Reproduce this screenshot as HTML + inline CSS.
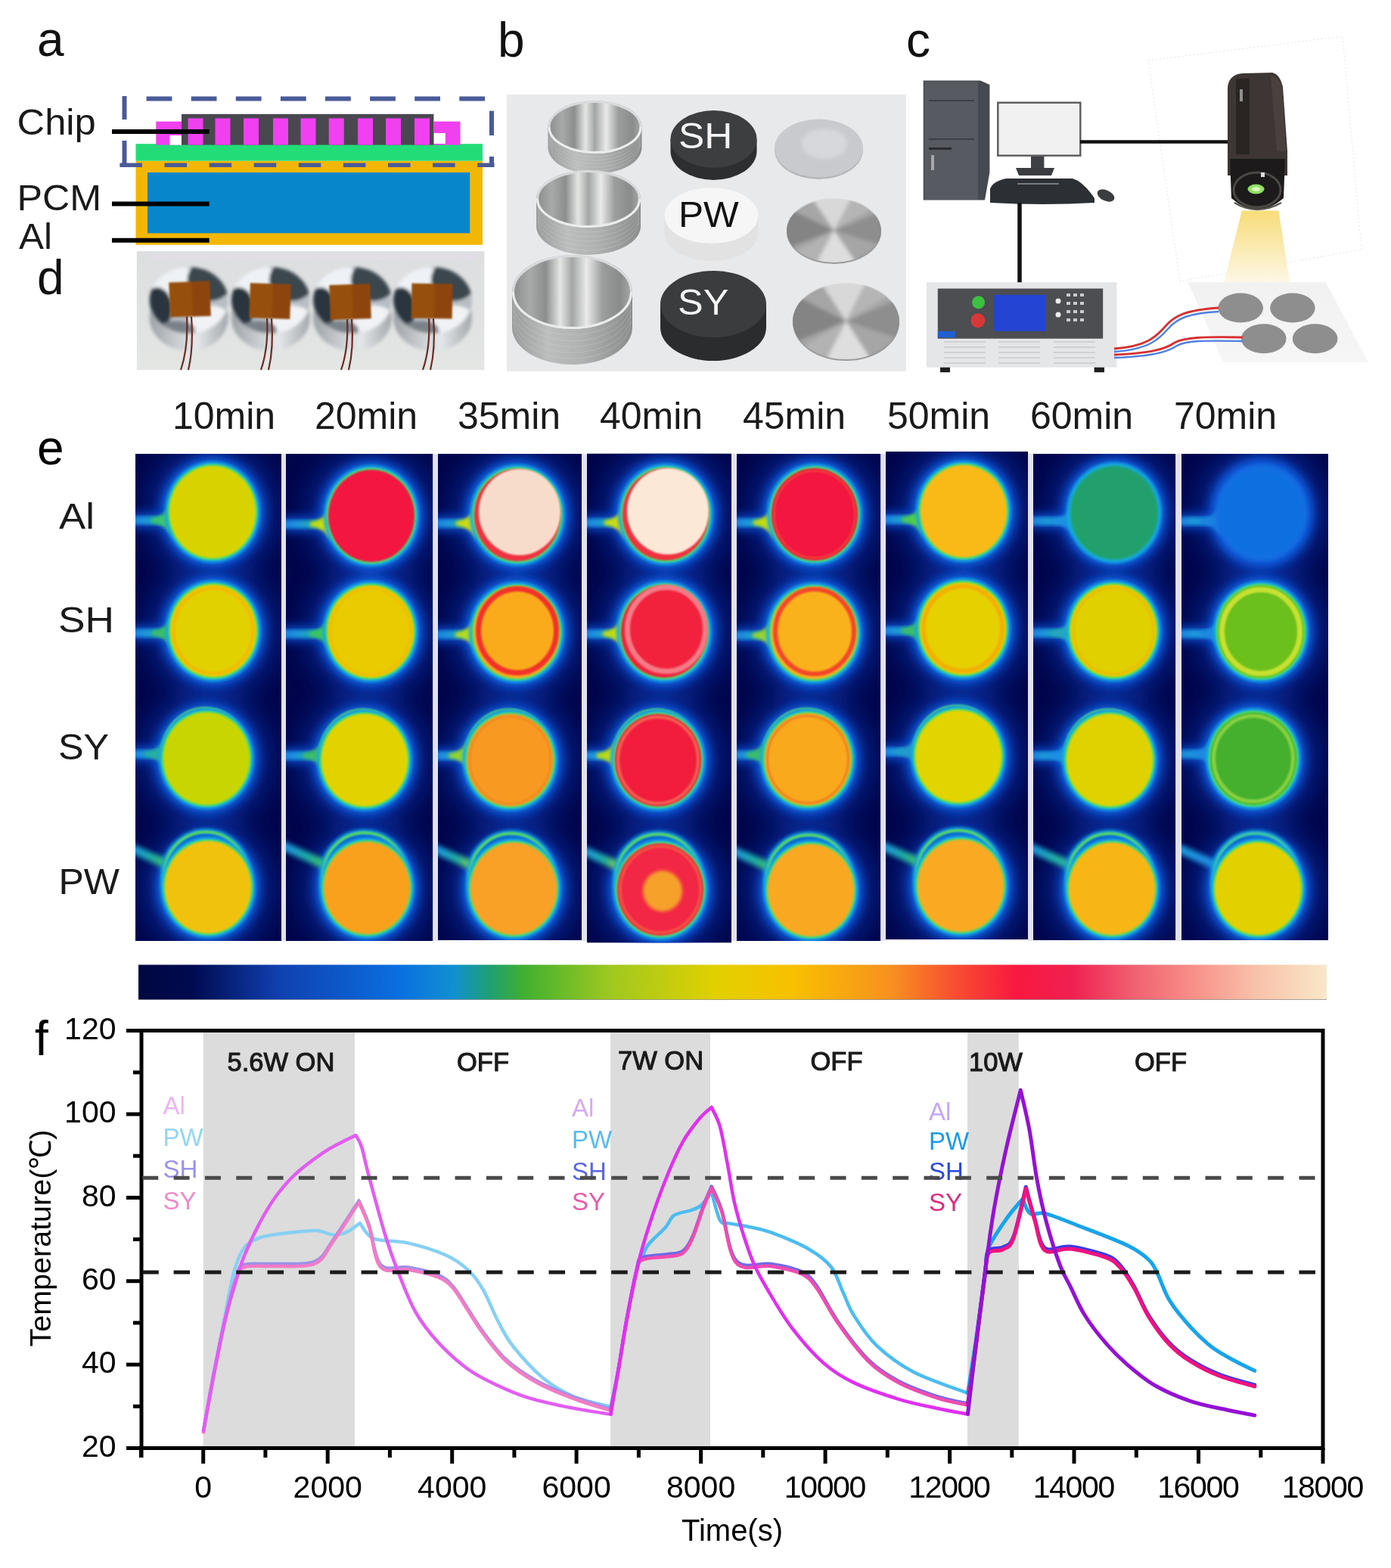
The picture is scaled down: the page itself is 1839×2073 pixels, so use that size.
<!DOCTYPE html><html><head><meta charset="utf-8"><title>Figure</title><style>html,body{margin:0;padding:0;background:#fff;}svg{display:block;}text{font-family:"Liberation Sans",Arial,sans-serif;}</style></head><body>
<svg width="1839" height="2073" viewBox="0 0 1839 2073" font-family="Liberation Sans, Arial, sans-serif">
<defs><filter id="bl12" x="-50%" y="-50%" width="200%" height="200%"><feGaussianBlur stdDeviation="12"/></filter>
<filter id="bl6" x="-50%" y="-50%" width="200%" height="200%"><feGaussianBlur stdDeviation="6"/></filter>
<filter id="bl3" x="-50%" y="-50%" width="200%" height="200%"><feGaussianBlur stdDeviation="3"/></filter>
<filter id="bl18" x="-50%" y="-50%" width="200%" height="200%"><feGaussianBlur stdDeviation="18"/></filter>
<filter id="bl1" x="-20%" y="-20%" width="140%" height="140%"><feGaussianBlur stdDeviation="1.2"/></filter>
<filter id="bl2" x="-20%" y="-20%" width="140%" height="140%"><feGaussianBlur stdDeviation="2.2"/></filter>
<clipPath id="cp0"><rect x="179.0" y="600.0" width="193.0" height="644.0"/></clipPath>
<clipPath id="cp1"><rect x="378.0" y="600.0" width="194.5" height="644.0"/></clipPath>
<clipPath id="cp2"><rect x="579.0" y="600.0" width="190.0" height="643.0"/></clipPath>
<clipPath id="cp3"><rect x="776.0" y="599.5" width="191.0" height="647.0"/></clipPath>
<clipPath id="cp4"><rect x="974.0" y="600.0" width="190.5" height="644.0"/></clipPath>
<clipPath id="cp5"><rect x="1171.0" y="597.0" width="188.0" height="645.0"/></clipPath>
<clipPath id="cp6"><rect x="1366.0" y="600.0" width="188.5" height="643.0"/></clipPath>
<clipPath id="cp7"><rect x="1562.0" y="600.0" width="194.0" height="643.0"/></clipPath>
<linearGradient id="cbar" x1="0" x2="1" y1="0" y2="0"><stop offset="0" stop-color="#000840"/><stop offset="0.045" stop-color="#000a50"/><stop offset="0.118" stop-color="#1040b0"/><stop offset="0.221" stop-color="#0a70e0"/><stop offset="0.265" stop-color="#1090d0"/><stop offset="0.297" stop-color="#20a070"/><stop offset="0.324" stop-color="#40b030"/><stop offset="0.398" stop-color="#a0c820"/><stop offset="0.487" stop-color="#e2d000"/><stop offset="0.551" stop-color="#f8c000"/><stop offset="0.634" stop-color="#f89020"/><stop offset="0.685" stop-color="#f85030"/><stop offset="0.739" stop-color="#f81840"/><stop offset="0.786" stop-color="#f02050"/><stop offset="0.837" stop-color="#f06070"/><stop offset="0.888" stop-color="#f89088"/><stop offset="0.939" stop-color="#f8c0a8"/><stop offset="1" stop-color="#f8e8c8"/></linearGradient></defs>
<rect width="1839" height="2073" fill="#fff"/>
<rect x="179.5" y="212.7" width="458.5" height="111" fill="#f2b705"/>
<rect x="195" y="228" width="426.2" height="80.3" fill="#0786cc"/>
<rect x="179.5" y="190.2" width="458.5" height="22.5" fill="#22dd77"/>
<rect x="206.3" y="160.6" width="36.5" height="31" fill="#f040f0"/>
<rect x="224.5" y="179" width="15.5" height="12.6" fill="#ffffff"/>
<rect x="573.4" y="160.6" width="35.1" height="31" fill="#f040f0"/>
<rect x="573.4" y="176" width="15.4" height="14" fill="#ffffff"/>
<rect x="240" y="150.8" width="333.4" height="40.8" fill="#48484e"/>
<rect x="248.5" y="156.4" width="20" height="35.2" fill="#f040f0"/>
<rect x="284.5" y="156.4" width="20" height="35.2" fill="#f040f0"/>
<rect x="322.0" y="156.4" width="20" height="35.2" fill="#f040f0"/>
<rect x="361.0" y="156.4" width="20" height="35.2" fill="#f040f0"/>
<rect x="397.5" y="156.4" width="20" height="35.2" fill="#f040f0"/>
<rect x="434.7" y="156.4" width="20" height="35.2" fill="#f040f0"/>
<rect x="473.0" y="156.4" width="20" height="35.2" fill="#f040f0"/>
<rect x="510.0" y="156.4" width="20" height="35.2" fill="#f040f0"/>
<rect x="548.0" y="156.4" width="20" height="35.2" fill="#f040f0"/>
<line x1="193.6" y1="130.4" x2="647" y2="130.4" stroke="#4a5a98" stroke-width="6" fill="none" stroke-dasharray="33.8 25.3"/>
<line x1="164.5" y1="127" x2="164.5" y2="158" stroke="#4a5a98" stroke-width="6" fill="none"/>
<line x1="164.5" y1="186" x2="164.5" y2="221" stroke="#4a5a98" stroke-width="6" fill="none"/>
<line x1="650" y1="146.6" x2="650" y2="179" stroke="#4a5a98" stroke-width="6" fill="none"/>
<line x1="650" y1="207" x2="650" y2="221" stroke="#4a5a98" stroke-width="6" fill="none"/>
<line x1="158.4" y1="218.3" x2="653.5" y2="218.3" stroke="#4a5a98" stroke-width="5.5" stroke-dasharray="29.5 29.6"/>
<line x1="148" y1="174.0" x2="276.7" y2="174.0" stroke="#000" stroke-width="6"/>
<line x1="148" y1="269.4" x2="276.7" y2="269.4" stroke="#000" stroke-width="6"/>
<line x1="148" y1="317.8" x2="276.7" y2="317.8" stroke="#000" stroke-width="6"/>
<g font-size="48" fill="#1a1a1a"><text transform="translate(22.5,178.2) scale(1.057,1)">Chip</text><text transform="translate(22.5,278.3) scale(1.047,1)">PCM</text><text transform="translate(25,329.3) scale(1.03,1)">Al</text></g>
<defs><linearGradient id="dbg" x1="0" y1="0" x2="0" y2="1"><stop offset="0" stop-color="#dcdedf"/><stop offset="0.5" stop-color="#e0e2e2"/><stop offset="1" stop-color="#e4e6e4"/></linearGradient><linearGradient id="mcyl" x1="0" y1="0" x2="1" y2="0"><stop offset="0" stop-color="#9ca2a6"/><stop offset="0.3" stop-color="#c4c8cc"/><stop offset="0.6" stop-color="#e4e8ea"/><stop offset="1" stop-color="#a4a8ac"/></linearGradient><filter id="pb" x="-10%" y="-10%" width="120%" height="120%"><feGaussianBlur stdDeviation="2.2"/></filter><filter id="pb1" x="-10%" y="-10%" width="120%" height="120%"><feGaussianBlur stdDeviation="1"/></filter>
<clipPath id="dtop0"><ellipse cx="249.7" cy="397" rx="52" ry="44"/></clipPath>
<clipPath id="dtop1"><ellipse cx="357.9" cy="397" rx="52" ry="44"/></clipPath>
<clipPath id="dtop2"><ellipse cx="466.0" cy="397" rx="52" ry="44"/></clipPath>
<clipPath id="dtop3"><ellipse cx="572.0" cy="397" rx="52" ry="44"/></clipPath>
</defs>
<rect x="180.8" y="332.2" width="459.5" height="156.8" fill="url(#dbg)"/>
<rect x="200" y="336" width="430" height="8" fill="#e6dcea" opacity="0.6"/>
<g filter="url(#pb)"><ellipse cx="249.7" cy="420" rx="52" ry="44" fill="url(#mcyl)"/><g clip-path="url(#dtop0)"><rect x="197.7" y="353" width="104" height="88" fill="#b8bec4"/><ellipse cx="227.7" cy="372" rx="34" ry="22" fill="#eef2f6"/><ellipse cx="277.7" cy="370" rx="30" ry="28" fill="#3a464e"/><ellipse cx="207.7" cy="408" rx="20" ry="28" fill="#2c3640"/><ellipse cx="277.7" cy="424" rx="28" ry="20" fill="#f0f2f5"/><ellipse cx="233.7" cy="436" rx="24" ry="12" fill="#7a8288"/></g></g>
<g filter="url(#pb)"><ellipse cx="357.9" cy="420" rx="52" ry="44" fill="url(#mcyl)"/><g clip-path="url(#dtop1)"><rect x="305.9" y="353" width="104" height="88" fill="#b8bec4"/><ellipse cx="335.9" cy="372" rx="34" ry="22" fill="#eef2f6"/><ellipse cx="385.9" cy="370" rx="30" ry="28" fill="#3a464e"/><ellipse cx="315.9" cy="408" rx="20" ry="28" fill="#2c3640"/><ellipse cx="385.9" cy="424" rx="28" ry="20" fill="#f0f2f5"/><ellipse cx="341.9" cy="436" rx="24" ry="12" fill="#7a8288"/></g></g>
<g filter="url(#pb)"><ellipse cx="466.0" cy="420" rx="52" ry="44" fill="url(#mcyl)"/><g clip-path="url(#dtop2)"><rect x="414.0" y="353" width="104" height="88" fill="#b8bec4"/><ellipse cx="444.0" cy="372" rx="34" ry="22" fill="#eef2f6"/><ellipse cx="494.0" cy="370" rx="30" ry="28" fill="#3a464e"/><ellipse cx="424.0" cy="408" rx="20" ry="28" fill="#2c3640"/><ellipse cx="494.0" cy="424" rx="28" ry="20" fill="#f0f2f5"/><ellipse cx="450.0" cy="436" rx="24" ry="12" fill="#7a8288"/></g></g>
<g filter="url(#pb)"><ellipse cx="572.0" cy="420" rx="52" ry="44" fill="url(#mcyl)"/><g clip-path="url(#dtop3)"><rect x="520.0" y="353" width="104" height="88" fill="#b8bec4"/><ellipse cx="550.0" cy="372" rx="34" ry="22" fill="#eef2f6"/><ellipse cx="600.0" cy="370" rx="30" ry="28" fill="#3a464e"/><ellipse cx="530.0" cy="408" rx="20" ry="28" fill="#2c3640"/><ellipse cx="600.0" cy="424" rx="28" ry="20" fill="#f0f2f5"/><ellipse cx="556.0" cy="436" rx="24" ry="12" fill="#7a8288"/></g></g>
<g transform="rotate(-2 251.0 395.5)" filter="url(#pb1)"><rect x="224.0" y="372.5" width="54" height="46" fill="#96500e"/><rect x="254.0" y="372.5" width="24" height="46" fill="#8a3e08" opacity="0.7"/></g>
<path d="M247.0,418.5 Q249.0,460 239.0,489 M253.0,418.5 Q256.0,460 249.0,489" stroke="#6a2c24" stroke-width="2.2" fill="none"/>
<g transform="rotate(2 357.0 398.0)" filter="url(#pb1)"><rect x="330.0" y="375.0" width="54" height="46" fill="#96500e"/><rect x="360.0" y="375.0" width="24" height="46" fill="#8a3e08" opacity="0.7"/></g>
<path d="M353.0,421.0 Q355.0,460 345.0,489 M359.0,421.0 Q362.0,460 355.0,489" stroke="#6a2c24" stroke-width="2.2" fill="none"/>
<g transform="rotate(-2 463.0 399.0)" filter="url(#pb1)"><rect x="436.0" y="376.0" width="54" height="46" fill="#96500e"/><rect x="466.0" y="376.0" width="24" height="46" fill="#8a3e08" opacity="0.7"/></g>
<path d="M459.0,422.0 Q461.0,460 451.0,489 M465.0,422.0 Q468.0,460 461.0,489" stroke="#6a2c24" stroke-width="2.2" fill="none"/>
<g transform="rotate(1 571.0 398.0)" filter="url(#pb1)"><rect x="544.0" y="375.0" width="54" height="46" fill="#96500e"/><rect x="574.0" y="375.0" width="24" height="46" fill="#8a3e08" opacity="0.7"/></g>
<path d="M567.0,421.0 Q569.0,460 559.0,489 M573.0,421.0 Q576.0,460 569.0,489" stroke="#6a2c24" stroke-width="2.2" fill="none"/>
<defs><linearGradient id="cupin" x1="0" y1="0" x2="1" y2="0"><stop offset="0" stop-color="#8a8c8c"/><stop offset="0.15" stop-color="#a8aaaa"/><stop offset="0.28" stop-color="#8c8e8e"/><stop offset="0.4" stop-color="#e4e6e4"/><stop offset="0.5" stop-color="#a4a6a6"/><stop offset="0.62" stop-color="#eaeaea"/><stop offset="0.75" stop-color="#9c9e9e"/><stop offset="0.9" stop-color="#8a8c8c"/><stop offset="1" stop-color="#a8aaaa"/></linearGradient><linearGradient id="cupout" x1="0" y1="0" x2="1" y2="0"><stop offset="0" stop-color="#9a9c9c"/><stop offset="0.3" stop-color="#bcbebe"/><stop offset="0.6" stop-color="#aeb0b0"/><stop offset="1" stop-color="#8a8c8c"/></linearGradient><linearGradient id="blk" x1="0" y1="0" x2="0" y2="1"><stop offset="0" stop-color="#404244"/><stop offset="1" stop-color="#2e3032"/></linearGradient><radialGradient id="mdisc" cx="0.5" cy="0.5" r="0.6"><stop offset="0" stop-color="#c0c0c0"/><stop offset="1" stop-color="#9a9a9a"/></radialGradient><filter id="pbb" x="-10%" y="-10%" width="120%" height="120%"><feGaussianBlur stdDeviation="2.5"/></filter></defs>
<rect x="670" y="125" width="528" height="366" fill="#e8e9eb"/>
<path d="M724.5,168.0 L724.5,195.0 A62.0,35.0 0 0 0 848.5,195.0 L848.5,168.0 Z" fill="url(#cupout)"/>
<path d="M726.5,172.5 A60.0,35.0 0 0 0 846.5,172.5" fill="none" stroke="#d4d6d8" stroke-width="1" opacity="0.3"/>
<path d="M726.5,177.0 A60.0,35.0 0 0 0 846.5,177.0" fill="none" stroke="#d4d6d8" stroke-width="1" opacity="0.3"/>
<path d="M726.5,181.5 A60.0,35.0 0 0 0 846.5,181.5" fill="none" stroke="#d4d6d8" stroke-width="1" opacity="0.3"/>
<path d="M726.5,186.0 A60.0,35.0 0 0 0 846.5,186.0" fill="none" stroke="#d4d6d8" stroke-width="1" opacity="0.3"/>
<path d="M726.5,190.5 A60.0,35.0 0 0 0 846.5,190.5" fill="none" stroke="#d4d6d8" stroke-width="1" opacity="0.3"/>
<ellipse cx="786.5" cy="168.0" rx="62.0" ry="35.0" fill="url(#cupin)"/>
<ellipse cx="786.5" cy="168.0" rx="60.5" ry="33.5" fill="none" stroke="#d8dadc" stroke-width="3"/>
<path d="M726.0,168.0 A60.5,33.5 0 0 0 847.0,168.0" fill="none" stroke="#f0f0f0" stroke-width="3" opacity="0.8"/>
<path d="M709.0,263.0 L709.0,299.0 A69.0,38.0 0 0 0 847.0,299.0 L847.0,263.0 Z" fill="url(#cupout)"/>
<path d="M711.0,269.0 A67.0,38.0 0 0 0 845.0,269.0" fill="none" stroke="#d4d6d8" stroke-width="1" opacity="0.3"/>
<path d="M711.0,275.0 A67.0,38.0 0 0 0 845.0,275.0" fill="none" stroke="#d4d6d8" stroke-width="1" opacity="0.3"/>
<path d="M711.0,281.0 A67.0,38.0 0 0 0 845.0,281.0" fill="none" stroke="#d4d6d8" stroke-width="1" opacity="0.3"/>
<path d="M711.0,287.0 A67.0,38.0 0 0 0 845.0,287.0" fill="none" stroke="#d4d6d8" stroke-width="1" opacity="0.3"/>
<path d="M711.0,293.0 A67.0,38.0 0 0 0 845.0,293.0" fill="none" stroke="#d4d6d8" stroke-width="1" opacity="0.3"/>
<ellipse cx="778.0" cy="263.0" rx="69.0" ry="38.0" fill="url(#cupin)"/>
<ellipse cx="778.0" cy="263.0" rx="67.5" ry="36.5" fill="none" stroke="#d8dadc" stroke-width="3"/>
<path d="M710.5,263.0 A67.5,36.5 0 0 0 845.5,263.0" fill="none" stroke="#f0f0f0" stroke-width="3" opacity="0.8"/>
<path d="M677.0,386.0 L677.0,433.0 A79.5,49.0 0 0 0 836.0,433.0 L836.0,386.0 Z" fill="url(#cupout)"/>
<path d="M679.0,393.8 A77.5,49.0 0 0 0 834.0,393.8" fill="none" stroke="#d4d6d8" stroke-width="1" opacity="0.3"/>
<path d="M679.0,401.7 A77.5,49.0 0 0 0 834.0,401.7" fill="none" stroke="#d4d6d8" stroke-width="1" opacity="0.3"/>
<path d="M679.0,409.5 A77.5,49.0 0 0 0 834.0,409.5" fill="none" stroke="#d4d6d8" stroke-width="1" opacity="0.3"/>
<path d="M679.0,417.3 A77.5,49.0 0 0 0 834.0,417.3" fill="none" stroke="#d4d6d8" stroke-width="1" opacity="0.3"/>
<path d="M679.0,425.2 A77.5,49.0 0 0 0 834.0,425.2" fill="none" stroke="#d4d6d8" stroke-width="1" opacity="0.3"/>
<ellipse cx="756.5" cy="386.0" rx="79.5" ry="49.0" fill="url(#cupin)"/>
<ellipse cx="756.5" cy="386.0" rx="78.0" ry="47.5" fill="none" stroke="#d8dadc" stroke-width="3"/>
<path d="M678.5,386.0 A78.0,47.5 0 0 0 834.5,386.0" fill="none" stroke="#f0f0f0" stroke-width="3" opacity="0.8"/>
<path d="M886.5,184.0 L886.5,200.0 A57.0,38.0 0 0 0 1000.5,200.0 L1000.5,184.0 Z" fill="#2c2e30"/>
<ellipse cx="943.5" cy="184.0" rx="57.0" ry="38.0" fill="#3c3e40"/>
<path d="M878.5,285.0 L878.5,308.0 A62.0,37.0 0 0 0 1002.5,308.0 L1002.5,285.0 Z" fill="#e2e2e2"/>
<ellipse cx="940.5" cy="285.0" rx="62.0" ry="37.0" fill="#f6f6f6"/>
<path d="M873.0,402.0 L873.0,433.0 A70.0,44.0 0 0 0 1013.0,433.0 L1013.0,402.0 Z" fill="#2a2c2e"/>
<ellipse cx="943.0" cy="402.0" rx="70.0" ry="44.0" fill="#3a3c3e"/>
<g font-size="48.5"><text transform="translate(897,195.5) scale(1.06,1)" fill="#f4f4f4">SH</text><text transform="translate(897,299.5) scale(1.02,1)" fill="#111">PW</text><text transform="translate(896,416.2) scale(1.04,1)" fill="#f4f4f4">SY</text></g>
<ellipse cx="1082.5" cy="198" rx="58.5" ry="39" fill="#b4b6b9"/>
<ellipse cx="1082.5" cy="196" rx="58.5" ry="38.5" fill="#c8cacd"/>
<ellipse cx="1090" cy="190" rx="30" ry="20" fill="#d6d8db" filter="url(#pbb)"/>
<clipPath id="mdc0"><ellipse cx="1102.5" cy="304.5" rx="62.5" ry="42.5"/></clipPath>
<ellipse cx="1102.5" cy="306.5" rx="62.5" ry="42.5" fill="#9a9a9a"/>
<g clip-path="url(#mdc0)"><g filter="url(#pbb)"><ellipse cx="1102.5" cy="304.5" rx="62.5" ry="42.5" fill="#a6a6a6"/><path d="M1102.5,304.5 L1018.0,181.2 L1093.8,168.6 L1170.9,176.7 Z" fill="#dedede" opacity="0.90"/><path d="M1102.5,304.5 L1187.0,427.8 L1111.2,440.4 L1034.1,432.3 Z" fill="#e4e4e4" opacity="0.90"/><path d="M1102.5,304.5 L929.3,372.5 L902.7,298.6 L938.7,226.5 Z" fill="#7c7c7c" opacity="0.80"/><path d="M1102.5,304.5 L1275.7,236.5 L1302.3,298.6 L1283.8,362.0 Z" fill="#848484" opacity="0.70"/><path d="M1102.5,304.5 L1170.9,176.7 L1217.2,193.1 L1255.7,217.1 Z" fill="#c0c0c0" opacity="0.60"/><path d="M1102.5,304.5 L1034.1,432.3 L987.8,415.9 L949.3,391.9 Z" fill="#bcbcbc" opacity="0.60"/></g></g>
<clipPath id="mdc1"><ellipse cx="1118.5" cy="424.5" rx="70.5" ry="50.5"/></clipPath>
<ellipse cx="1118.5" cy="426.5" rx="70.5" ry="50.5" fill="#9a9a9a"/>
<g clip-path="url(#mdc1)"><g filter="url(#pbb)"><ellipse cx="1118.5" cy="424.5" rx="70.5" ry="50.5" fill="#a6a6a6"/><path d="M1118.5,424.5 L1034.0,294.7 L1109.8,281.4 L1186.9,289.9 Z" fill="#dedede" opacity="0.90"/><path d="M1118.5,424.5 L1203.0,554.3 L1127.2,567.6 L1050.1,559.1 Z" fill="#e4e4e4" opacity="0.90"/><path d="M1118.5,424.5 L945.3,496.1 L918.7,418.3 L954.7,342.3 Z" fill="#7c7c7c" opacity="0.80"/><path d="M1118.5,424.5 L1291.7,352.9 L1318.3,418.3 L1299.8,485.0 Z" fill="#848484" opacity="0.70"/><path d="M1118.5,424.5 L1186.9,289.9 L1233.2,307.1 L1271.7,332.4 Z" fill="#c0c0c0" opacity="0.60"/><path d="M1118.5,424.5 L1050.1,559.1 L1003.8,541.9 L965.3,516.6 Z" fill="#bcbcbc" opacity="0.60"/></g></g>
<defs><linearGradient id="cone" x1="0" y1="0" x2="0" y2="1"><stop offset="0" stop-color="#f7dc78"/><stop offset="0.5" stop-color="#faeab0"/><stop offset="1" stop-color="#fdf8ea"/></linearGradient><linearGradient id="tray" x1="0" y1="0" x2="0" y2="1"><stop offset="0" stop-color="#f1f1f1"/><stop offset="1" stop-color="#f6f6f6"/></linearGradient></defs>
<path d="M1518,80 L1775,48 L1800,330 L1560,372 Z" fill="none" stroke="#e8e8e8" stroke-width="1.2" stroke-dasharray="2 3"/>
<path d="M1220.7,106.5 H1296 L1308.4,112 V228 L1302,264.6 H1220.7 Z" fill="#46494f"/>
<path d="M1222,108 H1293 V264 H1222 Z" fill="#575a61"/>
<path d="M1228,133 H1288 M1228,184 H1288" stroke="#3c3f45" stroke-width="2"/>
<path d="M1228,196.5 H1258" stroke="#2a2c30" stroke-width="3"/>
<rect x="1231" y="205" width="4" height="20" fill="#c8c8c8" opacity="0.7"/>
<rect x="1319.3" y="135.7" width="109" height="70" fill="#f1f1f1" stroke="#5a5a5a" stroke-width="2.4"/>
<rect x="1363" y="206.7" width="17.4" height="20.6" fill="#3e4044"/>
<path d="M1343,222 L1394,222 L1390,232 L1347,232 Z" fill="#3a3c40"/>
<path d="M1309,250 Q1312,240 1330,236 L1418,236 Q1432,240 1447,262 L1447,268 Q1380,272 1309,268 Z" fill="#2c3034"/>
<path d="M1345,243 H1400" stroke="#9a9c9e" stroke-width="2" opacity="0.7"/>
<ellipse cx="1462" cy="258.5" rx="12" ry="7" transform="rotate(25 1462 258.5)" fill="#3a3c40"/>
<line x1="1428" y1="187.6" x2="1623" y2="187.6" stroke="#111" stroke-width="4.5"/>
<line x1="1348" y1="268" x2="1348" y2="376" stroke="#111" stroke-width="5.5"/>
<path d="M1641.9,278.6 L1690.4,278.6 L1705.6,375.7 L1617.6,375.7 Z" fill="url(#cone)"/>
<path d="M1623,118 Q1623,99 1642,97 L1682,96 Q1692,98 1696,115 L1702,200 L1702,232 L1623,232 Z" fill="#3e3634"/>
<path d="M1680,100 Q1692,102 1695,118 L1700,200 L1688,200 Z" fill="#4e4440" opacity="0.8"/>
<rect x="1634" y="104" width="18" height="100" fill="#2a2422"/>
<rect x="1639" y="118" width="4" height="16" fill="#d8d8d8" opacity="0.6"/>
<path d="M1626,210 L1699,210 L1697,262 Q1662,292 1628,262 Z" fill="#1c1a1a"/>
<ellipse cx="1662" cy="251" rx="31" ry="23" fill="none" stroke="#4c4846" stroke-width="3"/>
<path d="M1632,268 Q1662,286 1694,268" fill="none" stroke="#5a5650" stroke-width="2.5"/>
<ellipse cx="1660.5" cy="250" rx="11" ry="6.5" fill="#8ee060"/>
<ellipse cx="1660.5" cy="250" rx="6" ry="3" fill="#d8f8b8"/>
<rect x="1667" y="228" width="5" height="6" fill="#ddd"/>
<rect x="1224.9" y="373.2" width="251.5" height="112.5" fill="#e4e6e8"/>
<rect x="1239.8" y="381.5" width="218.4" height="66.2" fill="#4c4e52"/>
<rect x="1314.2" y="389.8" width="67.8" height="48" fill="#2444d4"/>
<circle cx="1293.6" cy="399.7" r="8.5" fill="#3cc040"/>
<circle cx="1292.8" cy="423.7" r="9.5" fill="#d83838"/>
<rect x="1239.8" y="437.8" width="23" height="8.5" fill="#2060d0"/>
<circle cx="1399" cy="398" r="3.5" fill="#eee"/>
<circle cx="1399" cy="416" r="3.5" fill="#eee"/>
<rect x="1410" y="388" width="5" height="4" fill="#c8cacc"/>
<rect x="1419" y="388" width="5" height="4" fill="#c8cacc"/>
<rect x="1428" y="388" width="5" height="4" fill="#c8cacc"/>
<rect x="1410" y="399" width="5" height="4" fill="#c8cacc"/>
<rect x="1419" y="399" width="5" height="4" fill="#c8cacc"/>
<rect x="1428" y="399" width="5" height="4" fill="#c8cacc"/>
<rect x="1410" y="410" width="5" height="4" fill="#c8cacc"/>
<rect x="1419" y="410" width="5" height="4" fill="#c8cacc"/>
<rect x="1428" y="410" width="5" height="4" fill="#c8cacc"/>
<rect x="1410" y="421" width="5" height="4" fill="#c8cacc"/>
<rect x="1419" y="421" width="5" height="4" fill="#c8cacc"/>
<rect x="1428" y="421" width="5" height="4" fill="#c8cacc"/>
<line x1="1248" y1="452" x2="1303" y2="452" stroke="#cfd1d4" stroke-width="2"/>
<line x1="1320" y1="452" x2="1375" y2="452" stroke="#cfd1d4" stroke-width="2"/>
<line x1="1393" y1="452" x2="1448" y2="452" stroke="#cfd1d4" stroke-width="2"/>
<line x1="1248" y1="459" x2="1303" y2="459" stroke="#cfd1d4" stroke-width="2"/>
<line x1="1320" y1="459" x2="1375" y2="459" stroke="#cfd1d4" stroke-width="2"/>
<line x1="1393" y1="459" x2="1448" y2="459" stroke="#cfd1d4" stroke-width="2"/>
<line x1="1248" y1="466" x2="1303" y2="466" stroke="#cfd1d4" stroke-width="2"/>
<line x1="1320" y1="466" x2="1375" y2="466" stroke="#cfd1d4" stroke-width="2"/>
<line x1="1393" y1="466" x2="1448" y2="466" stroke="#cfd1d4" stroke-width="2"/>
<line x1="1248" y1="473" x2="1303" y2="473" stroke="#cfd1d4" stroke-width="2"/>
<line x1="1320" y1="473" x2="1375" y2="473" stroke="#cfd1d4" stroke-width="2"/>
<line x1="1393" y1="473" x2="1448" y2="473" stroke="#cfd1d4" stroke-width="2"/>
<line x1="1248" y1="480" x2="1303" y2="480" stroke="#cfd1d4" stroke-width="2"/>
<line x1="1320" y1="480" x2="1375" y2="480" stroke="#cfd1d4" stroke-width="2"/>
<line x1="1393" y1="480" x2="1448" y2="480" stroke="#cfd1d4" stroke-width="2"/>
<rect x="1243" y="485.7" width="13" height="6.5" fill="#1e1e1e"/><rect x="1446.6" y="485.7" width="13.4" height="6.5" fill="#1e1e1e"/>
<path d="M1570.7,373.2 L1752.7,373.2 L1809,479 L1617,479 Z" fill="url(#tray)"/>
<ellipse cx="1640.2" cy="407.1" rx="29.8" ry="19.5" fill="#8e8e8e"/>
<ellipse cx="1708.9" cy="407.1" rx="29.8" ry="19.5" fill="#8e8e8e"/>
<ellipse cx="1670.8" cy="447.7" rx="29.8" ry="19.5" fill="#8e8e8e"/>
<ellipse cx="1738.6" cy="447.7" rx="29.8" ry="19.5" fill="#8e8e8e"/>
<path d="M1473,461 C1515,458 1528,446 1541,431 C1553,417 1568,410 1611,407" stroke="#d83030" stroke-width="2.8" fill="none"/>
<path d="M1473,465 C1517,462 1531,450 1544,435 C1556,421 1571,414 1611,412" stroke="#5080e0" stroke-width="2.4" fill="none"/>
<path d="M1473,469 C1520,467 1540,462 1553,453 C1566,446 1590,445 1643,446" stroke="#d83030" stroke-width="2.8" fill="none"/>
<path d="M1473,473 C1522,471 1543,466 1556,457 C1569,450 1592,450 1643,451" stroke="#5080e0" stroke-width="2.4" fill="none"/>
<g font-size="64" fill="#111"><text x="49" y="74">a</text><text x="658" y="75">b</text><text x="1198" y="75">c</text><text x="49" y="389">d</text></g>
<g clip-path="url(#cp0)">
<rect x="179.0" y="600.0" width="193.0" height="644.0" fill="#00054c"/>
<g filter="url(#bl18)" opacity="0.6"><ellipse cx="281.0" cy="677.0" rx="83" ry="87" fill="#0a40c0"/><ellipse cx="282.0" cy="834.0" rx="83" ry="87" fill="#0a40c0"/><ellipse cx="273.0" cy="1003.0" rx="83" ry="87" fill="#0a40c0"/><ellipse cx="275.0" cy="1173.0" rx="83" ry="87" fill="#0a40c0"/><rect x="249.8" y="677.0" width="56" height="496.0" fill="#0a40c0"/></g>
<g filter="url(#bl6)" opacity="0.85"><ellipse cx="281.0" cy="677.0" rx="70" ry="74" fill="#0a5ce0"/><ellipse cx="282.0" cy="834.0" rx="70" ry="74" fill="#0a5ce0"/><ellipse cx="273.0" cy="1003.0" rx="70" ry="74" fill="#0a5ce0"/><ellipse cx="275.0" cy="1173.0" rx="70" ry="74" fill="#0a5ce0"/></g>
<linearGradient id="tg0_0" x1="0" x2="1" y1="0" y2="0"><stop offset="0" stop-color="#1a78e0"/><stop offset="0.35" stop-color="#1a98d8"/><stop offset="0.7" stop-color="#20b0a0"/><stop offset="1" stop-color="#40c868"/></linearGradient>
<rect x="173.0" y="677.0" width="57.0" height="22" fill="#0a50d0" filter="url(#bl6)" opacity="0.8"/>
<rect x="173.0" y="682.5" width="57.0" height="11" fill="url(#tg0_0)" filter="url(#bl2)"/>
<path d="M200.0,685.0 Q218.0,684.0 227.0,664.0 L227.0,710.0 Q218.0,692.0 200.0,691.0 Z" fill="#40c868" filter="url(#bl2)" opacity="0.9"/>
<linearGradient id="tg0_1" x1="0" x2="1" y1="0" y2="0"><stop offset="0" stop-color="#1a78e0"/><stop offset="0.35" stop-color="#1a98d8"/><stop offset="0.7" stop-color="#20b0a0"/><stop offset="1" stop-color="#40c060"/></linearGradient>
<rect x="173.0" y="826.0" width="58.0" height="22" fill="#0a50d0" filter="url(#bl6)" opacity="0.8"/>
<rect x="173.0" y="831.5" width="58.0" height="11" fill="url(#tg0_1)" filter="url(#bl2)"/>
<path d="M201.0,834.0 Q219.0,833.0 228.0,813.0 L228.0,859.0 Q219.0,841.0 201.0,840.0 Z" fill="#40c060" filter="url(#bl2)" opacity="0.9"/>
<linearGradient id="tg0_2" x1="0" x2="1" y1="0" y2="0"><stop offset="0" stop-color="#1a78e0"/><stop offset="0.35" stop-color="#1a98d8"/><stop offset="0.7" stop-color="#20b0a0"/><stop offset="1" stop-color="#28b0a0"/></linearGradient>
<rect x="173.0" y="986.0" width="49.0" height="22" fill="#0a50d0" filter="url(#bl6)" opacity="0.8"/>
<rect x="173.0" y="991.5" width="49.0" height="11" fill="url(#tg0_2)" filter="url(#bl2)"/>
<path d="M192.0,994.0 Q210.0,993.0 219.0,973.0 L219.0,1019.0 Q210.0,1001.0 192.0,1000.0 Z" fill="#28b0a0" filter="url(#bl2)" opacity="0.9"/>
<linearGradient id="tg0_3" x1="0" x2="1" y1="0" y2="0"><stop offset="0" stop-color="#1a78e0"/><stop offset="0.35" stop-color="#1a98d8"/><stop offset="0.7" stop-color="#20b0a0"/><stop offset="1" stop-color="#48c850"/></linearGradient>
<g transform="rotate(24 222.0 1143.0)"><rect x="149.0" y="1137.0" width="73.0" height="12" fill="url(#tg0_3)" filter="url(#bl3)"/></g>
<ellipse cx="281.0" cy="677.0" rx="63" ry="67" fill="#12a8e8" filter="url(#bl2)"/>
<ellipse cx="281.0" cy="677.0" rx="59.5" ry="63.5" fill="#48dc70" filter="url(#bl1)"/>
<ellipse cx="281.0" cy="677.0" rx="57" ry="61" fill="#d8d300" filter="url(#bl1)"/>
<ellipse cx="282.0" cy="834.0" rx="63" ry="67" fill="#12a8e8" filter="url(#bl2)"/>
<ellipse cx="282.0" cy="834.0" rx="59.5" ry="63.5" fill="#48dc70" filter="url(#bl1)"/>
<ellipse cx="282.0" cy="834.0" rx="57" ry="61" fill="#e2d100" filter="url(#bl1)"/>
<ellipse cx="282.0" cy="834.0" rx="52.5" ry="56.5" fill="none" stroke="#f0bc00" stroke-width="5" filter="url(#bl1)"/>
<ellipse cx="271.0" cy="997.0" rx="57" ry="61" fill="none" stroke="#58d060" stroke-width="3" filter="url(#bl1)"/>
<ellipse cx="273.0" cy="1003.0" rx="63" ry="67" fill="#12a8e8" filter="url(#bl2)"/>
<ellipse cx="273.0" cy="1003.0" rx="59.5" ry="63.5" fill="#48dc70" filter="url(#bl1)"/>
<ellipse cx="273.0" cy="1003.0" rx="57" ry="61" fill="#c9d500" filter="url(#bl1)"/>
<ellipse cx="272.0" cy="1157.0" rx="56" ry="58" fill="none" stroke="#12a0e0" stroke-width="7" filter="url(#bl2)"/>
<ellipse cx="272.0" cy="1157.0" rx="55" ry="57" fill="none" stroke="#58d860" stroke-width="3.5" filter="url(#bl1)"/>
<ellipse cx="275.0" cy="1173.0" rx="63" ry="67" fill="#12a8e8" filter="url(#bl2)"/>
<ellipse cx="275.0" cy="1173.0" rx="59.5" ry="63.5" fill="#48dc70" filter="url(#bl1)"/>
<ellipse cx="275.0" cy="1173.0" rx="57" ry="61" fill="#f1c20e" filter="url(#bl1)"/>
</g>
<g clip-path="url(#cp1)">
<rect x="378.0" y="600.0" width="194.5" height="644.0" fill="#00054c"/>
<g filter="url(#bl18)" opacity="0.6"><ellipse cx="491.0" cy="682.0" rx="83" ry="87" fill="#0a40c0"/><ellipse cx="490.0" cy="835.0" rx="83" ry="87" fill="#0a40c0"/><ellipse cx="482.0" cy="1005.0" rx="83" ry="87" fill="#0a40c0"/><ellipse cx="485.0" cy="1174.0" rx="83" ry="87" fill="#0a40c0"/><rect x="459.0" y="682.0" width="56" height="492.0" fill="#0a40c0"/></g>
<g filter="url(#bl6)" opacity="0.85"><ellipse cx="491.0" cy="682.0" rx="70" ry="74" fill="#0a5ce0"/><ellipse cx="490.0" cy="835.0" rx="70" ry="74" fill="#0a5ce0"/><ellipse cx="482.0" cy="1005.0" rx="70" ry="74" fill="#0a5ce0"/><ellipse cx="485.0" cy="1174.0" rx="70" ry="74" fill="#0a5ce0"/></g>
<linearGradient id="tg1_0" x1="0" x2="1" y1="0" y2="0"><stop offset="0" stop-color="#1a78e0"/><stop offset="0.35" stop-color="#1a98d8"/><stop offset="0.7" stop-color="#20b0a0"/><stop offset="1" stop-color="#d8e000"/></linearGradient>
<rect x="372.0" y="682.0" width="68.0" height="22" fill="#0a50d0" filter="url(#bl6)" opacity="0.8"/>
<rect x="372.0" y="687.5" width="68.0" height="11" fill="url(#tg1_0)" filter="url(#bl2)"/>
<path d="M410.0,690.0 Q428.0,689.0 437.0,669.0 L437.0,715.0 Q428.0,697.0 410.0,696.0 Z" fill="#d8e000" filter="url(#bl2)" opacity="0.9"/>
<linearGradient id="tg1_1" x1="0" x2="1" y1="0" y2="0"><stop offset="0" stop-color="#1a78e0"/><stop offset="0.35" stop-color="#1a98d8"/><stop offset="0.7" stop-color="#20b0a0"/><stop offset="1" stop-color="#40c858"/></linearGradient>
<rect x="372.0" y="827.0" width="67.0" height="22" fill="#0a50d0" filter="url(#bl6)" opacity="0.8"/>
<rect x="372.0" y="832.5" width="67.0" height="11" fill="url(#tg1_1)" filter="url(#bl2)"/>
<path d="M409.0,835.0 Q427.0,834.0 436.0,814.0 L436.0,860.0 Q427.0,842.0 409.0,841.0 Z" fill="#40c858" filter="url(#bl2)" opacity="0.9"/>
<linearGradient id="tg1_2" x1="0" x2="1" y1="0" y2="0"><stop offset="0" stop-color="#1a78e0"/><stop offset="0.35" stop-color="#1a98d8"/><stop offset="0.7" stop-color="#20b0a0"/><stop offset="1" stop-color="#40c060"/></linearGradient>
<rect x="372.0" y="988.0" width="59.0" height="22" fill="#0a50d0" filter="url(#bl6)" opacity="0.8"/>
<rect x="372.0" y="993.5" width="59.0" height="11" fill="url(#tg1_2)" filter="url(#bl2)"/>
<path d="M401.0,996.0 Q419.0,995.0 428.0,975.0 L428.0,1021.0 Q419.0,1003.0 401.0,1002.0 Z" fill="#40c060" filter="url(#bl2)" opacity="0.9"/>
<linearGradient id="tg1_3" x1="0" x2="1" y1="0" y2="0"><stop offset="0" stop-color="#1a78e0"/><stop offset="0.35" stop-color="#1a98d8"/><stop offset="0.7" stop-color="#20b0a0"/><stop offset="1" stop-color="#48c850"/></linearGradient>
<g transform="rotate(24 432.0 1144.0)"><rect x="348.0" y="1138.0" width="84.0" height="12" fill="url(#tg1_3)" filter="url(#bl3)"/></g>
<ellipse cx="491.0" cy="682.0" rx="63" ry="67" fill="#12a8e8" filter="url(#bl2)"/>
<ellipse cx="491.0" cy="682.0" rx="59.5" ry="63.5" fill="#48dc70" filter="url(#bl1)"/>
<ellipse cx="491.0" cy="682.0" rx="57" ry="61" fill="#f2163f" filter="url(#bl1)"/>
<ellipse cx="490.0" cy="835.0" rx="63" ry="67" fill="#12a8e8" filter="url(#bl2)"/>
<ellipse cx="490.0" cy="835.0" rx="59.5" ry="63.5" fill="#48dc70" filter="url(#bl1)"/>
<ellipse cx="490.0" cy="835.0" rx="57" ry="61" fill="#e8cb00" filter="url(#bl1)"/>
<ellipse cx="490.0" cy="835.0" rx="53.0" ry="57.0" fill="none" stroke="#eec000" stroke-width="4" filter="url(#bl1)"/>
<ellipse cx="480.0" cy="999.0" rx="57" ry="61" fill="none" stroke="#58d060" stroke-width="3" filter="url(#bl1)"/>
<ellipse cx="482.0" cy="1005.0" rx="63" ry="67" fill="#12a8e8" filter="url(#bl2)"/>
<ellipse cx="482.0" cy="1005.0" rx="59.5" ry="63.5" fill="#48dc70" filter="url(#bl1)"/>
<ellipse cx="482.0" cy="1005.0" rx="57" ry="61" fill="#e2d300" filter="url(#bl1)"/>
<ellipse cx="482.0" cy="1158.0" rx="56" ry="58" fill="none" stroke="#12a0e0" stroke-width="7" filter="url(#bl2)"/>
<ellipse cx="482.0" cy="1158.0" rx="55" ry="57" fill="none" stroke="#58d860" stroke-width="3.5" filter="url(#bl1)"/>
<ellipse cx="485.0" cy="1174.0" rx="63" ry="67" fill="#12a8e8" filter="url(#bl2)"/>
<ellipse cx="485.0" cy="1174.0" rx="59.5" ry="63.5" fill="#48dc70" filter="url(#bl1)"/>
<ellipse cx="485.0" cy="1174.0" rx="57" ry="61" fill="#f9a11f" filter="url(#bl1)"/>
</g>
<g clip-path="url(#cp2)">
<rect x="579.0" y="600.0" width="190.0" height="643.0" fill="#00054c"/>
<g filter="url(#bl18)" opacity="0.6"><ellipse cx="684.0" cy="681.0" rx="83" ry="87" fill="#0a40c0"/><ellipse cx="683.0" cy="836.0" rx="83" ry="87" fill="#0a40c0"/><ellipse cx="674.5" cy="1005.0" rx="83" ry="87" fill="#0a40c0"/><ellipse cx="679.0" cy="1175.0" rx="83" ry="87" fill="#0a40c0"/><rect x="652.1" y="681.0" width="56" height="494.0" fill="#0a40c0"/></g>
<g filter="url(#bl6)" opacity="0.85"><ellipse cx="684.0" cy="681.0" rx="70" ry="74" fill="#0a5ce0"/><ellipse cx="683.0" cy="836.0" rx="70" ry="74" fill="#0a5ce0"/><ellipse cx="674.5" cy="1005.0" rx="70" ry="74" fill="#0a5ce0"/><ellipse cx="679.0" cy="1175.0" rx="70" ry="74" fill="#0a5ce0"/></g>
<linearGradient id="tg2_0" x1="0" x2="1" y1="0" y2="0"><stop offset="0" stop-color="#1a78e0"/><stop offset="0.35" stop-color="#1a98d8"/><stop offset="0.7" stop-color="#20b0a0"/><stop offset="1" stop-color="#e0e000"/></linearGradient>
<rect x="573.0" y="681.0" width="60.0" height="22" fill="#0a50d0" filter="url(#bl6)" opacity="0.8"/>
<rect x="573.0" y="686.5" width="60.0" height="11" fill="url(#tg2_0)" filter="url(#bl2)"/>
<path d="M603.0,689.0 Q621.0,688.0 630.0,668.0 L630.0,714.0 Q621.0,696.0 603.0,695.0 Z" fill="#e0e000" filter="url(#bl2)" opacity="0.9"/>
<linearGradient id="tg2_1" x1="0" x2="1" y1="0" y2="0"><stop offset="0" stop-color="#1a78e0"/><stop offset="0.35" stop-color="#1a98d8"/><stop offset="0.7" stop-color="#20b0a0"/><stop offset="1" stop-color="#c8e010"/></linearGradient>
<rect x="573.0" y="828.0" width="59.0" height="22" fill="#0a50d0" filter="url(#bl6)" opacity="0.8"/>
<rect x="573.0" y="833.5" width="59.0" height="11" fill="url(#tg2_1)" filter="url(#bl2)"/>
<path d="M602.0,836.0 Q620.0,835.0 629.0,815.0 L629.0,861.0 Q620.0,843.0 602.0,842.0 Z" fill="#c8e010" filter="url(#bl2)" opacity="0.9"/>
<linearGradient id="tg2_2" x1="0" x2="1" y1="0" y2="0"><stop offset="0" stop-color="#1a78e0"/><stop offset="0.35" stop-color="#1a98d8"/><stop offset="0.7" stop-color="#20b0a0"/><stop offset="1" stop-color="#a0d820"/></linearGradient>
<rect x="573.0" y="988.0" width="50.5" height="22" fill="#0a50d0" filter="url(#bl6)" opacity="0.8"/>
<rect x="573.0" y="993.5" width="50.5" height="11" fill="url(#tg2_2)" filter="url(#bl2)"/>
<path d="M593.5,996.0 Q611.5,995.0 620.5,975.0 L620.5,1021.0 Q611.5,1003.0 593.5,1002.0 Z" fill="#a0d820" filter="url(#bl2)" opacity="0.9"/>
<linearGradient id="tg2_3" x1="0" x2="1" y1="0" y2="0"><stop offset="0" stop-color="#1a78e0"/><stop offset="0.35" stop-color="#1a98d8"/><stop offset="0.7" stop-color="#20b0a0"/><stop offset="1" stop-color="#90d830"/></linearGradient>
<g transform="rotate(24 626.0 1145.0)"><rect x="549.0" y="1139.0" width="77.0" height="12" fill="url(#tg2_3)" filter="url(#bl3)"/></g>
<ellipse cx="684.0" cy="681.0" rx="63" ry="67" fill="#12a8e8" filter="url(#bl2)"/>
<ellipse cx="684.0" cy="681.0" rx="59.5" ry="63.5" fill="#48dc70" filter="url(#bl1)"/>
<ellipse cx="684.0" cy="681.0" rx="57" ry="61" fill="#f03040" filter="url(#bl1)"/>
<ellipse cx="687.0" cy="677.0" rx="54" ry="57" fill="#f8dccb" filter="url(#bl1)"/>
<ellipse cx="683.0" cy="836.0" rx="63" ry="67" fill="#12a8e8" filter="url(#bl2)"/>
<ellipse cx="683.0" cy="836.0" rx="59.5" ry="63.5" fill="#48dc70" filter="url(#bl1)"/>
<ellipse cx="683.0" cy="836.0" rx="57" ry="61" fill="#f9ab1c" filter="url(#bl1)"/>
<ellipse cx="684.0" cy="834.0" rx="51.5" ry="55.5" fill="none" stroke="#f2322c" stroke-width="7" filter="url(#bl1)"/>
<ellipse cx="672.5" cy="999.0" rx="57" ry="61" fill="none" stroke="#58d060" stroke-width="3" filter="url(#bl1)"/>
<ellipse cx="674.5" cy="1005.0" rx="63" ry="67" fill="#12a8e8" filter="url(#bl2)"/>
<ellipse cx="674.5" cy="1005.0" rx="59.5" ry="63.5" fill="#48dc70" filter="url(#bl1)"/>
<ellipse cx="674.5" cy="1005.0" rx="57" ry="61" fill="#f89a22" filter="url(#bl1)"/>
<ellipse cx="674.5" cy="1005.0" rx="53.5" ry="57.5" fill="none" stroke="#f28a20" stroke-width="3" filter="url(#bl1)"/>
<ellipse cx="676.0" cy="1159.0" rx="56" ry="58" fill="none" stroke="#12a0e0" stroke-width="7" filter="url(#bl2)"/>
<ellipse cx="676.0" cy="1159.0" rx="55" ry="57" fill="none" stroke="#58d860" stroke-width="3.5" filter="url(#bl1)"/>
<ellipse cx="679.0" cy="1175.0" rx="63" ry="67" fill="#12a8e8" filter="url(#bl2)"/>
<ellipse cx="679.0" cy="1175.0" rx="59.5" ry="63.5" fill="#48dc70" filter="url(#bl1)"/>
<ellipse cx="679.0" cy="1175.0" rx="57" ry="61" fill="#f9a027" filter="url(#bl1)"/>
</g>
<g clip-path="url(#cp3)">
<rect x="776.0" y="599.5" width="191.0" height="647.0" fill="#00054c"/>
<g filter="url(#bl18)" opacity="0.6"><ellipse cx="880.0" cy="680.0" rx="83" ry="87" fill="#0a40c0"/><ellipse cx="878.0" cy="835.0" rx="83" ry="87" fill="#0a40c0"/><ellipse cx="870.0" cy="1005.0" rx="83" ry="87" fill="#0a40c0"/><ellipse cx="873.0" cy="1176.0" rx="83" ry="87" fill="#0a40c0"/><rect x="847.2" y="680.0" width="56" height="496.0" fill="#0a40c0"/></g>
<g filter="url(#bl6)" opacity="0.85"><ellipse cx="880.0" cy="680.0" rx="70" ry="74" fill="#0a5ce0"/><ellipse cx="878.0" cy="835.0" rx="70" ry="74" fill="#0a5ce0"/><ellipse cx="870.0" cy="1005.0" rx="70" ry="74" fill="#0a5ce0"/><ellipse cx="873.0" cy="1176.0" rx="70" ry="74" fill="#0a5ce0"/></g>
<linearGradient id="tg3_0" x1="0" x2="1" y1="0" y2="0"><stop offset="0" stop-color="#1a78e0"/><stop offset="0.35" stop-color="#1a98d8"/><stop offset="0.7" stop-color="#20b0a0"/><stop offset="1" stop-color="#e0e000"/></linearGradient>
<rect x="770.0" y="680.0" width="59.0" height="22" fill="#0a50d0" filter="url(#bl6)" opacity="0.8"/>
<rect x="770.0" y="685.5" width="59.0" height="11" fill="url(#tg3_0)" filter="url(#bl2)"/>
<path d="M799.0,688.0 Q817.0,687.0 826.0,667.0 L826.0,713.0 Q817.0,695.0 799.0,694.0 Z" fill="#e0e000" filter="url(#bl2)" opacity="0.9"/>
<linearGradient id="tg3_1" x1="0" x2="1" y1="0" y2="0"><stop offset="0" stop-color="#1a78e0"/><stop offset="0.35" stop-color="#1a98d8"/><stop offset="0.7" stop-color="#20b0a0"/><stop offset="1" stop-color="#d8e000"/></linearGradient>
<rect x="770.0" y="827.0" width="57.0" height="22" fill="#0a50d0" filter="url(#bl6)" opacity="0.8"/>
<rect x="770.0" y="832.5" width="57.0" height="11" fill="url(#tg3_1)" filter="url(#bl2)"/>
<path d="M797.0,835.0 Q815.0,834.0 824.0,814.0 L824.0,860.0 Q815.0,842.0 797.0,841.0 Z" fill="#d8e000" filter="url(#bl2)" opacity="0.9"/>
<linearGradient id="tg3_2" x1="0" x2="1" y1="0" y2="0"><stop offset="0" stop-color="#1a78e0"/><stop offset="0.35" stop-color="#1a98d8"/><stop offset="0.7" stop-color="#20b0a0"/><stop offset="1" stop-color="#d0e000"/></linearGradient>
<rect x="770.0" y="988.0" width="49.0" height="22" fill="#0a50d0" filter="url(#bl6)" opacity="0.8"/>
<rect x="770.0" y="993.5" width="49.0" height="11" fill="url(#tg3_2)" filter="url(#bl2)"/>
<path d="M789.0,996.0 Q807.0,995.0 816.0,975.0 L816.0,1021.0 Q807.0,1003.0 789.0,1002.0 Z" fill="#d0e000" filter="url(#bl2)" opacity="0.9"/>
<linearGradient id="tg3_3" x1="0" x2="1" y1="0" y2="0"><stop offset="0" stop-color="#1a78e0"/><stop offset="0.35" stop-color="#1a98d8"/><stop offset="0.7" stop-color="#20b0a0"/><stop offset="1" stop-color="#a0d820"/></linearGradient>
<g transform="rotate(24 820.0 1146.0)"><rect x="746.0" y="1140.0" width="74.0" height="12" fill="url(#tg3_3)" filter="url(#bl3)"/></g>
<ellipse cx="880.0" cy="680.0" rx="63" ry="67" fill="#12a8e8" filter="url(#bl2)"/>
<ellipse cx="880.0" cy="680.0" rx="59.5" ry="63.5" fill="#48dc70" filter="url(#bl1)"/>
<ellipse cx="880.0" cy="680.0" rx="57" ry="61" fill="#f03040" filter="url(#bl1)"/>
<ellipse cx="883.0" cy="676.0" rx="54" ry="57" fill="#fbe8d6" filter="url(#bl1)"/>
<ellipse cx="878.0" cy="835.0" rx="63" ry="67" fill="#12a8e8" filter="url(#bl2)"/>
<ellipse cx="878.0" cy="835.0" rx="59.5" ry="63.5" fill="#48dc70" filter="url(#bl1)"/>
<ellipse cx="878.0" cy="835.0" rx="57" ry="61" fill="#f2203c" filter="url(#bl1)"/>
<ellipse cx="881.0" cy="832.0" rx="51.5" ry="55.5" fill="none" stroke="#f47a86" stroke-width="7" filter="url(#bl1)"/>
<ellipse cx="868.0" cy="999.0" rx="57" ry="61" fill="none" stroke="#58d060" stroke-width="3" filter="url(#bl1)"/>
<ellipse cx="870.0" cy="1005.0" rx="63" ry="67" fill="#12a8e8" filter="url(#bl2)"/>
<ellipse cx="870.0" cy="1005.0" rx="59.5" ry="63.5" fill="#48dc70" filter="url(#bl1)"/>
<ellipse cx="870.0" cy="1005.0" rx="57" ry="61" fill="#f21e3c" filter="url(#bl1)"/>
<ellipse cx="870.0" cy="1005.0" rx="53.0" ry="57.0" fill="none" stroke="#f26050" stroke-width="4" filter="url(#bl1)"/>
<ellipse cx="870.0" cy="1160.0" rx="56" ry="58" fill="none" stroke="#12a0e0" stroke-width="7" filter="url(#bl2)"/>
<ellipse cx="870.0" cy="1160.0" rx="55" ry="57" fill="none" stroke="#58d860" stroke-width="3.5" filter="url(#bl1)"/>
<ellipse cx="873.0" cy="1176.0" rx="63" ry="67" fill="#12a8e8" filter="url(#bl2)"/>
<ellipse cx="873.0" cy="1176.0" rx="59.5" ry="63.5" fill="#48dc70" filter="url(#bl1)"/>
<ellipse cx="873.0" cy="1176.0" rx="57" ry="61" fill="#f22644" filter="url(#bl1)"/>
<ellipse cx="873.0" cy="1176.0" rx="53.0" ry="57.0" fill="none" stroke="#f25040" stroke-width="4" filter="url(#bl1)"/>
<ellipse cx="876.0" cy="1178.0" rx="26" ry="27" fill="#f6a22a" filter="url(#bl2)"/>
</g>
<g clip-path="url(#cp4)">
<rect x="974.0" y="600.0" width="190.5" height="644.0" fill="#00054c"/>
<g filter="url(#bl18)" opacity="0.6"><ellipse cx="1077.0" cy="680.0" rx="83" ry="87" fill="#0a40c0"/><ellipse cx="1076.0" cy="837.0" rx="83" ry="87" fill="#0a40c0"/><ellipse cx="1068.0" cy="1004.0" rx="83" ry="87" fill="#0a40c0"/><ellipse cx="1072.0" cy="1177.0" rx="83" ry="87" fill="#0a40c0"/><rect x="1045.2" y="680.0" width="56" height="497.0" fill="#0a40c0"/></g>
<g filter="url(#bl6)" opacity="0.85"><ellipse cx="1077.0" cy="680.0" rx="70" ry="74" fill="#0a5ce0"/><ellipse cx="1076.0" cy="837.0" rx="70" ry="74" fill="#0a5ce0"/><ellipse cx="1068.0" cy="1004.0" rx="70" ry="74" fill="#0a5ce0"/><ellipse cx="1072.0" cy="1177.0" rx="70" ry="74" fill="#0a5ce0"/></g>
<linearGradient id="tg4_0" x1="0" x2="1" y1="0" y2="0"><stop offset="0" stop-color="#1a78e0"/><stop offset="0.35" stop-color="#1a98d8"/><stop offset="0.7" stop-color="#20b0a0"/><stop offset="1" stop-color="#d8e000"/></linearGradient>
<rect x="968.0" y="680.0" width="58.0" height="22" fill="#0a50d0" filter="url(#bl6)" opacity="0.8"/>
<rect x="968.0" y="685.5" width="58.0" height="11" fill="url(#tg4_0)" filter="url(#bl2)"/>
<path d="M996.0,688.0 Q1014.0,687.0 1023.0,667.0 L1023.0,713.0 Q1014.0,695.0 996.0,694.0 Z" fill="#d8e000" filter="url(#bl2)" opacity="0.9"/>
<linearGradient id="tg4_1" x1="0" x2="1" y1="0" y2="0"><stop offset="0" stop-color="#1a78e0"/><stop offset="0.35" stop-color="#1a98d8"/><stop offset="0.7" stop-color="#20b0a0"/><stop offset="1" stop-color="#a8d820"/></linearGradient>
<rect x="968.0" y="829.0" width="57.0" height="22" fill="#0a50d0" filter="url(#bl6)" opacity="0.8"/>
<rect x="968.0" y="834.5" width="57.0" height="11" fill="url(#tg4_1)" filter="url(#bl2)"/>
<path d="M995.0,837.0 Q1013.0,836.0 1022.0,816.0 L1022.0,862.0 Q1013.0,844.0 995.0,843.0 Z" fill="#a8d820" filter="url(#bl2)" opacity="0.9"/>
<linearGradient id="tg4_2" x1="0" x2="1" y1="0" y2="0"><stop offset="0" stop-color="#1a78e0"/><stop offset="0.35" stop-color="#1a98d8"/><stop offset="0.7" stop-color="#20b0a0"/><stop offset="1" stop-color="#40c060"/></linearGradient>
<rect x="968.0" y="987.0" width="49.0" height="22" fill="#0a50d0" filter="url(#bl6)" opacity="0.8"/>
<rect x="968.0" y="992.5" width="49.0" height="11" fill="url(#tg4_2)" filter="url(#bl2)"/>
<path d="M987.0,995.0 Q1005.0,994.0 1014.0,974.0 L1014.0,1020.0 Q1005.0,1002.0 987.0,1001.0 Z" fill="#40c060" filter="url(#bl2)" opacity="0.9"/>
<linearGradient id="tg4_3" x1="0" x2="1" y1="0" y2="0"><stop offset="0" stop-color="#1a78e0"/><stop offset="0.35" stop-color="#1a98d8"/><stop offset="0.7" stop-color="#20b0a0"/><stop offset="1" stop-color="#48c850"/></linearGradient>
<g transform="rotate(24 1019.0 1147.0)"><rect x="944.0" y="1141.0" width="75.0" height="12" fill="url(#tg4_3)" filter="url(#bl3)"/></g>
<ellipse cx="1077.0" cy="680.0" rx="63" ry="67" fill="#12a8e8" filter="url(#bl2)"/>
<ellipse cx="1077.0" cy="680.0" rx="59.5" ry="63.5" fill="#48dc70" filter="url(#bl1)"/>
<ellipse cx="1077.0" cy="680.0" rx="57" ry="61" fill="#f2183f" filter="url(#bl1)"/>
<ellipse cx="1077.0" cy="680.0" rx="53.5" ry="57.5" fill="none" stroke="#f03a38" stroke-width="3" filter="url(#bl1)"/>
<ellipse cx="1076.0" cy="837.0" rx="63" ry="67" fill="#12a8e8" filter="url(#bl2)"/>
<ellipse cx="1076.0" cy="837.0" rx="59.5" ry="63.5" fill="#48dc70" filter="url(#bl1)"/>
<ellipse cx="1076.0" cy="837.0" rx="57" ry="61" fill="#f9b11c" filter="url(#bl1)"/>
<ellipse cx="1077.0" cy="835.0" rx="52.0" ry="56.0" fill="none" stroke="#f2462a" stroke-width="6" filter="url(#bl1)"/>
<ellipse cx="1066.0" cy="998.0" rx="57" ry="61" fill="none" stroke="#58d060" stroke-width="3" filter="url(#bl1)"/>
<ellipse cx="1068.0" cy="1004.0" rx="63" ry="67" fill="#12a8e8" filter="url(#bl2)"/>
<ellipse cx="1068.0" cy="1004.0" rx="59.5" ry="63.5" fill="#48dc70" filter="url(#bl1)"/>
<ellipse cx="1068.0" cy="1004.0" rx="57" ry="61" fill="#f9a91e" filter="url(#bl1)"/>
<ellipse cx="1068.0" cy="1004.0" rx="53.5" ry="57.5" fill="none" stroke="#f08020" stroke-width="3" filter="url(#bl1)"/>
<ellipse cx="1069.0" cy="1161.0" rx="56" ry="58" fill="none" stroke="#12a0e0" stroke-width="7" filter="url(#bl2)"/>
<ellipse cx="1069.0" cy="1161.0" rx="55" ry="57" fill="none" stroke="#58d860" stroke-width="3.5" filter="url(#bl1)"/>
<ellipse cx="1072.0" cy="1177.0" rx="63" ry="67" fill="#12a8e8" filter="url(#bl2)"/>
<ellipse cx="1072.0" cy="1177.0" rx="59.5" ry="63.5" fill="#48dc70" filter="url(#bl1)"/>
<ellipse cx="1072.0" cy="1177.0" rx="57" ry="61" fill="#f9a823" filter="url(#bl1)"/>
</g>
<g clip-path="url(#cp5)">
<rect x="1171.0" y="597.0" width="188.0" height="645.0" fill="#00054c"/>
<g filter="url(#bl18)" opacity="0.6"><ellipse cx="1274.0" cy="676.0" rx="83" ry="87" fill="#0a40c0"/><ellipse cx="1273.0" cy="831.0" rx="83" ry="87" fill="#0a40c0"/><ellipse cx="1267.0" cy="1000.0" rx="83" ry="87" fill="#0a40c0"/><ellipse cx="1270.0" cy="1171.0" rx="83" ry="87" fill="#0a40c0"/><rect x="1243.0" y="676.0" width="56" height="495.0" fill="#0a40c0"/></g>
<g filter="url(#bl6)" opacity="0.85"><ellipse cx="1274.0" cy="676.0" rx="70" ry="74" fill="#0a5ce0"/><ellipse cx="1273.0" cy="831.0" rx="70" ry="74" fill="#0a5ce0"/><ellipse cx="1267.0" cy="1000.0" rx="70" ry="74" fill="#0a5ce0"/><ellipse cx="1270.0" cy="1171.0" rx="70" ry="74" fill="#0a5ce0"/></g>
<linearGradient id="tg5_0" x1="0" x2="1" y1="0" y2="0"><stop offset="0" stop-color="#1a78e0"/><stop offset="0.35" stop-color="#1a98d8"/><stop offset="0.7" stop-color="#20b0a0"/><stop offset="1" stop-color="#58d040"/></linearGradient>
<rect x="1165.0" y="676.0" width="58.0" height="22" fill="#0a50d0" filter="url(#bl6)" opacity="0.8"/>
<rect x="1165.0" y="681.5" width="58.0" height="11" fill="url(#tg5_0)" filter="url(#bl2)"/>
<path d="M1193.0,684.0 Q1211.0,683.0 1220.0,663.0 L1220.0,709.0 Q1211.0,691.0 1193.0,690.0 Z" fill="#58d040" filter="url(#bl2)" opacity="0.9"/>
<linearGradient id="tg5_1" x1="0" x2="1" y1="0" y2="0"><stop offset="0" stop-color="#1a78e0"/><stop offset="0.35" stop-color="#1a98d8"/><stop offset="0.7" stop-color="#20b0a0"/><stop offset="1" stop-color="#40c060"/></linearGradient>
<rect x="1165.0" y="823.0" width="57.0" height="22" fill="#0a50d0" filter="url(#bl6)" opacity="0.8"/>
<rect x="1165.0" y="828.5" width="57.0" height="11" fill="url(#tg5_1)" filter="url(#bl2)"/>
<path d="M1192.0,831.0 Q1210.0,830.0 1219.0,810.0 L1219.0,856.0 Q1210.0,838.0 1192.0,837.0 Z" fill="#40c060" filter="url(#bl2)" opacity="0.9"/>
<linearGradient id="tg5_2" x1="0" x2="1" y1="0" y2="0"><stop offset="0" stop-color="#1a78e0"/><stop offset="0.35" stop-color="#1a98d8"/><stop offset="0.7" stop-color="#20b0a0"/><stop offset="1" stop-color="#2098d0"/></linearGradient>
<rect x="1165.0" y="983.0" width="51.0" height="22" fill="#0a50d0" filter="url(#bl6)" opacity="0.8"/>
<rect x="1165.0" y="988.5" width="51.0" height="11" fill="url(#tg5_2)" filter="url(#bl2)"/>
<path d="M1186.0,991.0 Q1204.0,990.0 1213.0,970.0 L1213.0,1016.0 Q1204.0,998.0 1186.0,997.0 Z" fill="#2098d0" filter="url(#bl2)" opacity="0.9"/>
<linearGradient id="tg5_3" x1="0" x2="1" y1="0" y2="0"><stop offset="0" stop-color="#1a78e0"/><stop offset="0.35" stop-color="#1a98d8"/><stop offset="0.7" stop-color="#20b0a0"/><stop offset="1" stop-color="#48c850"/></linearGradient>
<g transform="rotate(24 1217.0 1141.0)"><rect x="1141.0" y="1135.0" width="76.0" height="12" fill="url(#tg5_3)" filter="url(#bl3)"/></g>
<ellipse cx="1274.0" cy="676.0" rx="63" ry="67" fill="#12a8e8" filter="url(#bl2)"/>
<ellipse cx="1274.0" cy="676.0" rx="59.5" ry="63.5" fill="#48dc70" filter="url(#bl1)"/>
<ellipse cx="1274.0" cy="676.0" rx="57" ry="61" fill="#f9b917" filter="url(#bl1)"/>
<ellipse cx="1273.0" cy="831.0" rx="63" ry="67" fill="#12a8e8" filter="url(#bl2)"/>
<ellipse cx="1273.0" cy="831.0" rx="59.5" ry="63.5" fill="#48dc70" filter="url(#bl1)"/>
<ellipse cx="1273.0" cy="831.0" rx="57" ry="61" fill="#e6d000" filter="url(#bl1)"/>
<ellipse cx="1273.0" cy="831.0" rx="52.0" ry="56.0" fill="none" stroke="#f2b000" stroke-width="6" filter="url(#bl1)"/>
<ellipse cx="1265.0" cy="994.0" rx="57" ry="61" fill="none" stroke="#58d060" stroke-width="3" filter="url(#bl1)"/>
<ellipse cx="1267.0" cy="1000.0" rx="63" ry="67" fill="#12a8e8" filter="url(#bl2)"/>
<ellipse cx="1267.0" cy="1000.0" rx="59.5" ry="63.5" fill="#48dc70" filter="url(#bl1)"/>
<ellipse cx="1267.0" cy="1000.0" rx="57" ry="61" fill="#e2d400" filter="url(#bl1)"/>
<ellipse cx="1267.0" cy="1155.0" rx="56" ry="58" fill="none" stroke="#12a0e0" stroke-width="7" filter="url(#bl2)"/>
<ellipse cx="1267.0" cy="1155.0" rx="55" ry="57" fill="none" stroke="#58d860" stroke-width="3.5" filter="url(#bl1)"/>
<ellipse cx="1270.0" cy="1171.0" rx="63" ry="67" fill="#12a8e8" filter="url(#bl2)"/>
<ellipse cx="1270.0" cy="1171.0" rx="59.5" ry="63.5" fill="#48dc70" filter="url(#bl1)"/>
<ellipse cx="1270.0" cy="1171.0" rx="57" ry="61" fill="#f9aa20" filter="url(#bl1)"/>
</g>
<g clip-path="url(#cp6)">
<rect x="1366.0" y="600.0" width="188.5" height="643.0" fill="#00054c"/>
<g filter="url(#bl18)" opacity="0.6"><ellipse cx="1473.0" cy="678.0" rx="83" ry="87" fill="#0a40c0"/><ellipse cx="1472.0" cy="834.0" rx="83" ry="87" fill="#0a40c0"/><ellipse cx="1467.0" cy="1005.0" rx="83" ry="87" fill="#0a40c0"/><ellipse cx="1470.0" cy="1175.0" rx="83" ry="87" fill="#0a40c0"/><rect x="1442.5" y="678.0" width="56" height="497.0" fill="#0a40c0"/></g>
<g filter="url(#bl6)" opacity="0.85"><ellipse cx="1473.0" cy="678.0" rx="70" ry="74" fill="#0a5ce0"/><ellipse cx="1472.0" cy="834.0" rx="70" ry="74" fill="#0a5ce0"/><ellipse cx="1467.0" cy="1005.0" rx="70" ry="74" fill="#0a5ce0"/><ellipse cx="1470.0" cy="1175.0" rx="70" ry="74" fill="#0a5ce0"/></g>
<linearGradient id="tg6_0" x1="0" x2="1" y1="0" y2="0"><stop offset="0" stop-color="#1a78e0"/><stop offset="0.35" stop-color="#1a98d8"/><stop offset="0.7" stop-color="#1a90e0"/><stop offset="1" stop-color="#1a90e0"/></linearGradient>
<rect x="1360.0" y="678.0" width="62.0" height="22" fill="#0a50d0" filter="url(#bl6)" opacity="0.8"/>
<rect x="1360.0" y="683.5" width="62.0" height="11" fill="url(#tg6_0)" filter="url(#bl2)"/>
<path d="M1392.0,686.0 Q1410.0,685.0 1419.0,665.0 L1419.0,711.0 Q1410.0,693.0 1392.0,692.0 Z" fill="#1a90e0" filter="url(#bl2)" opacity="0.9"/>
<linearGradient id="tg6_1" x1="0" x2="1" y1="0" y2="0"><stop offset="0" stop-color="#1a78e0"/><stop offset="0.35" stop-color="#1a98d8"/><stop offset="0.7" stop-color="#20b0a0"/><stop offset="1" stop-color="#28a8c0"/></linearGradient>
<rect x="1360.0" y="826.0" width="61.0" height="22" fill="#0a50d0" filter="url(#bl6)" opacity="0.8"/>
<rect x="1360.0" y="831.5" width="61.0" height="11" fill="url(#tg6_1)" filter="url(#bl2)"/>
<path d="M1391.0,834.0 Q1409.0,833.0 1418.0,813.0 L1418.0,859.0 Q1409.0,841.0 1391.0,840.0 Z" fill="#28a8c0" filter="url(#bl2)" opacity="0.9"/>
<linearGradient id="tg6_2" x1="0" x2="1" y1="0" y2="0"><stop offset="0" stop-color="#1a78e0"/><stop offset="0.35" stop-color="#1a98d8"/><stop offset="0.7" stop-color="#1a90e0"/><stop offset="1" stop-color="#1a90e0"/></linearGradient>
<rect x="1360.0" y="988.0" width="56.0" height="22" fill="#0a50d0" filter="url(#bl6)" opacity="0.8"/>
<rect x="1360.0" y="993.5" width="56.0" height="11" fill="url(#tg6_2)" filter="url(#bl2)"/>
<path d="M1386.0,996.0 Q1404.0,995.0 1413.0,975.0 L1413.0,1021.0 Q1404.0,1003.0 1386.0,1002.0 Z" fill="#1a90e0" filter="url(#bl2)" opacity="0.9"/>
<linearGradient id="tg6_3" x1="0" x2="1" y1="0" y2="0"><stop offset="0" stop-color="#1a78e0"/><stop offset="0.35" stop-color="#1a98d8"/><stop offset="0.7" stop-color="#20b0a0"/><stop offset="1" stop-color="#30b0a0"/></linearGradient>
<g transform="rotate(24 1417.0 1145.0)"><rect x="1336.0" y="1139.0" width="81.0" height="12" fill="url(#tg6_3)" filter="url(#bl3)"/></g>
<ellipse cx="1473.0" cy="678.0" rx="63" ry="67" fill="#12a8e8" filter="url(#bl2)"/>
<ellipse cx="1473.0" cy="678.0" rx="59.5" ry="63.5" fill="#18a8b0" filter="url(#bl1)"/>
<ellipse cx="1473.0" cy="678.0" rx="57" ry="61" fill="#21a06c" filter="url(#bl1)"/>
<ellipse cx="1472.0" cy="834.0" rx="63" ry="67" fill="#12a8e8" filter="url(#bl2)"/>
<ellipse cx="1472.0" cy="834.0" rx="59.5" ry="63.5" fill="#48dc70" filter="url(#bl1)"/>
<ellipse cx="1472.0" cy="834.0" rx="57" ry="61" fill="#e0d000" filter="url(#bl1)"/>
<ellipse cx="1472.0" cy="834.0" rx="53.0" ry="57.0" fill="none" stroke="#e8c000" stroke-width="4" filter="url(#bl1)"/>
<ellipse cx="1465.0" cy="999.0" rx="57" ry="61" fill="none" stroke="#58d060" stroke-width="3" filter="url(#bl1)"/>
<ellipse cx="1467.0" cy="1005.0" rx="63" ry="67" fill="#12a8e8" filter="url(#bl2)"/>
<ellipse cx="1467.0" cy="1005.0" rx="59.5" ry="63.5" fill="#48dc70" filter="url(#bl1)"/>
<ellipse cx="1467.0" cy="1005.0" rx="57" ry="61" fill="#e0d200" filter="url(#bl1)"/>
<ellipse cx="1467.0" cy="1159.0" rx="56" ry="58" fill="none" stroke="#12a0e0" stroke-width="7" filter="url(#bl2)"/>
<ellipse cx="1467.0" cy="1159.0" rx="55" ry="57" fill="none" stroke="#58d860" stroke-width="3.5" filter="url(#bl1)"/>
<ellipse cx="1470.0" cy="1175.0" rx="63" ry="67" fill="#12a8e8" filter="url(#bl2)"/>
<ellipse cx="1470.0" cy="1175.0" rx="59.5" ry="63.5" fill="#48dc70" filter="url(#bl1)"/>
<ellipse cx="1470.0" cy="1175.0" rx="57" ry="61" fill="#f8b517" filter="url(#bl1)"/>
</g>
<g clip-path="url(#cp7)">
<rect x="1562.0" y="600.0" width="194.0" height="643.0" fill="#00054c"/>
<g filter="url(#bl18)" opacity="0.6"><ellipse cx="1668.0" cy="678.0" rx="83" ry="87" fill="#0a40c0"/><ellipse cx="1667.0" cy="835.0" rx="83" ry="87" fill="#0a40c0"/><ellipse cx="1657.0" cy="1003.0" rx="83" ry="87" fill="#0a40c0"/><ellipse cx="1663.0" cy="1175.0" rx="83" ry="87" fill="#0a40c0"/><rect x="1635.8" y="678.0" width="56" height="497.0" fill="#0a40c0"/></g>
<g filter="url(#bl6)" opacity="0.85"><ellipse cx="1668.0" cy="678.0" rx="70" ry="74" fill="#0a5ce0"/><ellipse cx="1667.0" cy="835.0" rx="70" ry="74" fill="#0a5ce0"/><ellipse cx="1657.0" cy="1003.0" rx="70" ry="74" fill="#0a5ce0"/><ellipse cx="1663.0" cy="1175.0" rx="70" ry="74" fill="#0a5ce0"/></g>
<linearGradient id="tg7_0" x1="0" x2="1" y1="0" y2="0"><stop offset="0" stop-color="#1a78e0"/><stop offset="0.35" stop-color="#1a98d8"/><stop offset="0.7" stop-color="#1a90e0"/><stop offset="1" stop-color="#1a80e0"/></linearGradient>
<rect x="1556.0" y="678.0" width="61.0" height="22" fill="#0a50d0" filter="url(#bl6)" opacity="0.8"/>
<rect x="1556.0" y="683.5" width="61.0" height="11" fill="url(#tg7_0)" filter="url(#bl2)"/>
<path d="M1587.0,686.0 Q1605.0,685.0 1614.0,665.0 L1614.0,711.0 Q1605.0,693.0 1587.0,692.0 Z" fill="#1a80e0" filter="url(#bl2)" opacity="0.9"/>
<linearGradient id="tg7_1" x1="0" x2="1" y1="0" y2="0"><stop offset="0" stop-color="#1a78e0"/><stop offset="0.35" stop-color="#1a98d8"/><stop offset="0.7" stop-color="#1a90e0"/><stop offset="1" stop-color="#1a88e0"/></linearGradient>
<rect x="1556.0" y="827.0" width="60.0" height="22" fill="#0a50d0" filter="url(#bl6)" opacity="0.8"/>
<rect x="1556.0" y="832.5" width="60.0" height="11" fill="url(#tg7_1)" filter="url(#bl2)"/>
<path d="M1586.0,835.0 Q1604.0,834.0 1613.0,814.0 L1613.0,860.0 Q1604.0,842.0 1586.0,841.0 Z" fill="#1a88e0" filter="url(#bl2)" opacity="0.9"/>
<linearGradient id="tg7_2" x1="0" x2="1" y1="0" y2="0"><stop offset="0" stop-color="#1a78e0"/><stop offset="0.35" stop-color="#1a98d8"/><stop offset="0.7" stop-color="#1a90e0"/><stop offset="1" stop-color="#1a88e0"/></linearGradient>
<rect x="1556.0" y="986.0" width="50.0" height="22" fill="#0a50d0" filter="url(#bl6)" opacity="0.8"/>
<rect x="1556.0" y="991.5" width="50.0" height="11" fill="url(#tg7_2)" filter="url(#bl2)"/>
<path d="M1576.0,994.0 Q1594.0,993.0 1603.0,973.0 L1603.0,1019.0 Q1594.0,1001.0 1576.0,1000.0 Z" fill="#1a88e0" filter="url(#bl2)" opacity="0.9"/>
<linearGradient id="tg7_3" x1="0" x2="1" y1="0" y2="0"><stop offset="0" stop-color="#1a78e0"/><stop offset="0.35" stop-color="#1a98d8"/><stop offset="0.7" stop-color="#1a90e0"/><stop offset="1" stop-color="#1a90e0"/></linearGradient>
<g transform="rotate(24 1610.0 1145.0)"><rect x="1532.0" y="1139.0" width="78.0" height="12" fill="url(#tg7_3)" filter="url(#bl3)"/></g>
<ellipse cx="1668.0" cy="678.0" rx="61" ry="64" fill="#1470e4" filter="url(#bl3)"/>
<ellipse cx="1668.0" cy="678.0" rx="55" ry="58" fill="#0d6fe0" filter="url(#bl2)"/>
<ellipse cx="1667.0" cy="835.0" rx="63" ry="67" fill="#12a8e8" filter="url(#bl2)"/>
<ellipse cx="1667.0" cy="835.0" rx="59.5" ry="63.5" fill="#48dc70" filter="url(#bl1)"/>
<ellipse cx="1667.0" cy="835.0" rx="57" ry="61" fill="#6cc01e" filter="url(#bl1)"/>
<ellipse cx="1667.0" cy="835.0" rx="51.5" ry="55.5" fill="none" stroke="#c8e030" stroke-width="7" filter="url(#bl1)"/>
<ellipse cx="1657.0" cy="1003.0" rx="63" ry="67" fill="#12a8e8" filter="url(#bl2)"/>
<ellipse cx="1657.0" cy="1003.0" rx="59.5" ry="63.5" fill="#48dc70" filter="url(#bl1)"/>
<ellipse cx="1657.0" cy="1003.0" rx="57" ry="61" fill="#44b02e" filter="url(#bl1)"/>
<ellipse cx="1657.0" cy="1003.0" rx="52.5" ry="56.5" fill="none" stroke="#88d040" stroke-width="5" filter="url(#bl1)"/>
<ellipse cx="1660.0" cy="1159.0" rx="56" ry="58" fill="none" stroke="#12a0e0" stroke-width="7" filter="url(#bl2)"/>
<ellipse cx="1660.0" cy="1159.0" rx="55" ry="57" fill="none" stroke="#40c8a0" stroke-width="3.5" filter="url(#bl1)"/>
<ellipse cx="1663.0" cy="1175.0" rx="63" ry="67" fill="#12a8e8" filter="url(#bl2)"/>
<ellipse cx="1663.0" cy="1175.0" rx="59.5" ry="63.5" fill="#48dc70" filter="url(#bl1)"/>
<ellipse cx="1663.0" cy="1175.0" rx="57" ry="61" fill="#e2d000" filter="url(#bl1)"/>
</g>
<rect x="372.0" y="600" width="6.0" height="644" fill="#e2e2f2"/>
<rect x="572.5" y="600" width="6.5" height="644" fill="#e2e2f2"/>
<rect x="769.0" y="600" width="7.0" height="644" fill="#e2e2f2"/>
<rect x="967.0" y="600" width="7.0" height="644" fill="#e2e2f2"/>
<rect x="1164.5" y="600" width="6.5" height="644" fill="#e2e2f2"/>
<rect x="1359.0" y="600" width="7.0" height="644" fill="#e2e2f2"/>
<rect x="1554.5" y="600" width="7.5" height="644" fill="#e2e2f2"/>
<rect x="183" y="1275.5" width="1571" height="46" fill="url(#cbar)"/>
<line x1="183" y1="1321.5" x2="1754" y2="1321.5" stroke="#707070" stroke-width="1.2" opacity="0.6"/>
<g font-size="50" fill="#1a1a1a">
<text x="228" y="567">10min</text>
<text x="416" y="567">20min</text>
<text x="605" y="567">35min</text>
<text x="793" y="567">40min</text>
<text x="982" y="567">45min</text>
<text x="1173" y="567">50min</text>
<text x="1362" y="567">60min</text>
<text x="1552" y="567">70min</text>
</g>
<g font-size="48" fill="#1a1a1a">
<text transform="translate(78.0,699) scale(1.10,1)">Al</text>
<text transform="translate(77.0,836) scale(1.11,1)">SH</text>
<text transform="translate(77.0,1004) scale(1.05,1)">SY</text>
<text transform="translate(77.5,1182) scale(1.04,1)">PW</text>
</g>
<text x="49" y="614" font-size="64">e</text>
<rect x="268.7" y="1365" width="200.3" height="549" fill="#dcdcdc"/>
<rect x="807.0" y="1365" width="132.0" height="549" fill="#dcdcdc"/>
<rect x="1279.0" y="1365" width="67.8" height="549" fill="#dcdcdc"/>
<path d="M269.0,1891.5 C271.3,1878.4 278.3,1837.9 283.0,1813.0 C287.7,1788.1 292.7,1763.7 297.0,1742.0 C301.3,1720.3 304.6,1698.3 308.8,1683.0 C313.1,1667.7 316.6,1657.8 322.5,1650.0 C328.4,1642.2 334.8,1639.3 344.4,1636.0 C354.0,1632.7 367.7,1631.5 380.0,1630.0 C392.3,1628.5 408.3,1626.6 418.4,1627.0 C428.4,1627.4 433.7,1632.3 440.3,1632.6 C446.9,1632.9 452.1,1631.6 458.0,1629.0 C463.9,1626.4 472.9,1619.0 475.9,1617.0 C478.9,1620.4 483.2,1633.0 493.8,1637.4 C504.4,1641.8 523.5,1639.8 539.4,1643.4 C555.3,1647.1 575.9,1653.3 589.1,1659.3 C602.4,1665.2 610.6,1671.5 618.9,1679.1 C627.2,1686.7 632.1,1693.7 638.7,1705.0 C645.3,1716.3 652.0,1734.5 658.6,1747.0 C665.2,1759.5 668.5,1767.5 678.4,1780.0 C688.3,1792.5 704.9,1811.1 718.1,1822.1 C731.4,1833.1 743.0,1839.7 757.9,1846.0 C772.8,1852.3 799.2,1857.5 807.5,1859.8" fill="none" stroke="#86d0f2" stroke-width="4.5" stroke-linejoin="round" stroke-linecap="round"/>
<path d="M269.0,1891.5 C271.3,1878.8 278.2,1839.7 283.0,1815.0 C287.8,1790.3 293.0,1764.4 297.8,1743.6 C302.6,1722.8 307.9,1701.9 312.0,1690.0 C316.1,1678.1 314.5,1675.5 322.5,1672.3 C330.5,1669.1 344.5,1671.7 360.0,1671.0 C375.5,1670.3 402.3,1673.2 415.6,1668.0 C428.9,1662.8 430.2,1653.4 440.0,1640.0 C449.8,1626.6 468.8,1596.2 474.5,1587.4 C476.8,1592.8 483.2,1605.8 488.0,1620.0 C492.8,1634.2 494.7,1663.0 503.3,1672.3 C511.9,1681.5 526.8,1673.3 539.4,1675.5 C552.0,1677.7 569.2,1681.2 579.1,1685.5 C589.0,1689.8 592.4,1693.4 599.0,1701.0 C605.6,1708.6 612.3,1721.0 618.9,1731.0 C625.5,1741.0 630.4,1750.0 638.7,1761.0 C647.0,1772.0 656.9,1786.3 668.5,1797.0 C680.1,1807.7 693.3,1816.7 708.2,1825.0 C723.1,1833.3 741.4,1840.7 757.9,1847.0 C774.4,1853.3 799.2,1860.3 807.5,1863.0" fill="none" stroke="#9a90e8" stroke-width="4.5" stroke-linejoin="round" stroke-linecap="round"/>
<path d="M269.0,1893.5 C271.3,1880.8 278.2,1841.7 283.0,1817.0 C287.8,1792.3 293.0,1766.3 297.8,1745.6 C302.6,1724.9 307.9,1704.7 312.0,1693.0 C316.1,1681.3 314.5,1678.5 322.5,1675.3 C330.5,1672.1 344.5,1674.7 360.0,1674.0 C375.5,1673.3 402.3,1676.3 415.6,1671.0 C428.9,1665.7 430.2,1655.6 440.0,1642.0 C449.8,1628.4 468.8,1598.2 474.5,1589.4 C476.8,1594.8 483.2,1607.7 488.0,1622.0 C492.8,1636.3 494.7,1665.9 503.3,1675.3 C511.9,1684.7 526.8,1676.3 539.4,1678.5 C552.0,1680.7 569.2,1684.4 579.1,1688.5 C589.0,1692.6 592.4,1695.6 599.0,1703.0 C605.6,1710.4 612.3,1723.0 618.9,1733.0 C625.5,1743.0 630.4,1752.0 638.7,1763.0 C647.0,1774.0 656.9,1788.3 668.5,1799.0 C680.1,1809.7 693.3,1818.7 708.2,1827.0 C723.1,1835.3 741.4,1842.7 757.9,1849.0 C774.4,1855.3 799.2,1862.3 807.5,1865.0" fill="none" stroke="#f27cc6" stroke-width="4.5" stroke-linejoin="round" stroke-linecap="round"/>
<path d="M269.0,1891.5 C271.3,1878.8 278.2,1839.7 283.0,1815.0 C287.8,1790.3 293.3,1762.8 297.8,1743.6 C302.3,1724.4 305.9,1713.7 310.0,1700.0 C314.1,1686.3 316.8,1675.6 322.5,1661.4 C328.2,1647.2 337.1,1628.4 344.4,1614.8 C351.6,1601.2 358.2,1590.5 366.0,1580.0 C373.8,1569.5 380.9,1561.1 391.0,1551.8 C401.1,1542.5 416.8,1531.2 426.6,1524.4 C436.4,1517.6 442.7,1514.9 450.0,1511.0 C457.3,1507.1 467.0,1502.7 470.4,1501.0 C471.7,1503.5 475.1,1506.8 478.0,1516.0 C480.9,1525.2 482.8,1536.7 488.0,1556.0 C493.2,1575.3 502.8,1611.5 509.0,1632.0 C515.2,1652.5 518.6,1661.9 525.3,1679.0 C532.0,1696.1 540.4,1718.8 549.4,1734.7 C558.4,1750.6 567.5,1761.9 579.1,1774.5 C590.7,1787.1 605.6,1800.6 618.9,1810.2 C632.1,1819.8 645.4,1825.7 658.6,1832.0 C671.8,1838.3 681.8,1842.9 698.3,1847.9 C714.8,1852.9 739.7,1858.2 757.9,1861.8 C776.1,1865.4 799.2,1868.5 807.5,1869.8" fill="none" stroke="#e25cf2" stroke-width="4.5" stroke-linejoin="round" stroke-linecap="round"/>
<path d="M807.5,1859.8 C809.1,1852.1 813.5,1832.6 817.0,1813.7 C820.5,1794.8 824.1,1768.5 828.2,1746.2 C832.3,1723.9 838.1,1694.4 841.7,1680.0 C845.3,1665.6 847.4,1665.8 850.0,1660.0 C852.6,1654.2 852.5,1651.2 857.5,1645.0 C862.5,1638.8 874.4,1628.9 880.0,1622.5 C885.6,1616.1 885.6,1610.5 891.2,1606.7 C896.8,1603.0 907.7,1602.2 913.7,1600.0 C919.7,1597.8 922.7,1597.2 927.2,1593.2 C931.7,1589.2 938.5,1578.9 940.7,1576.0 C942.6,1582.2 948.1,1606.6 952.0,1613.5 C955.9,1620.4 957.5,1616.0 963.8,1617.4 C970.1,1618.8 980.7,1620.0 990.0,1622.0 C999.3,1624.0 1006.2,1624.5 1019.4,1629.4 C1032.6,1634.3 1055.8,1643.6 1069.0,1651.2 C1082.2,1658.8 1091.2,1665.4 1098.8,1675.0 C1106.4,1684.6 1109.7,1698.2 1114.7,1708.8 C1119.7,1719.4 1121.3,1727.0 1128.6,1738.6 C1135.9,1750.2 1145.2,1765.7 1158.4,1778.3 C1171.6,1790.9 1187.8,1803.4 1208.0,1814.0 C1228.2,1824.6 1267.6,1837.2 1279.5,1841.8" fill="none" stroke="#4cbcf0" stroke-width="4.5" stroke-linejoin="round" stroke-linecap="round"/>
<path d="M807.5,1863.0 C809.1,1854.8 813.5,1833.2 817.0,1813.7 C820.5,1794.2 824.1,1768.7 828.2,1746.2 C832.3,1723.7 838.3,1692.6 841.7,1678.7 C845.1,1664.8 842.1,1666.4 848.5,1663.0 C854.9,1659.6 871.0,1660.0 880.0,1658.5 C889.0,1657.0 896.5,1658.1 902.5,1654.0 C908.5,1649.9 911.5,1643.5 916.0,1633.7 C920.5,1624.0 925.4,1606.4 929.5,1595.5 C933.6,1584.6 938.8,1573.0 940.7,1568.5 C943.0,1573.8 948.7,1583.6 954.2,1600.0 C959.7,1616.4 962.8,1655.3 973.7,1667.1 C984.6,1678.9 1005.2,1668.7 1019.4,1671.0 C1033.6,1673.3 1049.2,1676.3 1059.1,1681.0 C1069.0,1685.7 1070.6,1687.7 1078.9,1698.9 C1087.2,1710.2 1097.1,1732.0 1108.7,1748.5 C1120.3,1765.0 1135.2,1785.2 1148.4,1798.1 C1161.6,1811.0 1173.2,1818.0 1188.1,1826.0 C1203.0,1834.0 1222.6,1840.8 1237.8,1845.8 C1253.0,1850.8 1272.5,1854.0 1279.5,1855.7" fill="none" stroke="#6e6ae6" stroke-width="4.5" stroke-linejoin="round" stroke-linecap="round"/>
<path d="M807.5,1865.0 C809.1,1856.8 813.5,1835.2 817.0,1815.7 C820.5,1796.2 824.1,1770.5 828.2,1748.2 C832.3,1725.9 838.3,1695.4 841.7,1681.7 C845.1,1668.0 842.1,1669.4 848.5,1666.0 C854.9,1662.6 871.0,1663.0 880.0,1661.5 C889.0,1660.0 896.5,1661.3 902.5,1657.0 C908.5,1652.7 911.5,1645.6 916.0,1635.7 C920.5,1625.8 925.4,1608.4 929.5,1597.5 C933.6,1586.6 938.8,1575.0 940.7,1570.5 C943.0,1575.8 948.7,1585.4 954.2,1602.0 C959.7,1618.6 962.8,1658.1 973.7,1670.1 C984.6,1682.1 1005.2,1671.7 1019.4,1674.0 C1033.6,1676.3 1049.2,1679.3 1059.1,1684.0 C1069.0,1688.7 1070.6,1690.8 1078.9,1701.9 C1087.2,1713.0 1097.1,1734.1 1108.7,1750.5 C1120.3,1766.9 1135.2,1787.2 1148.4,1800.1 C1161.6,1813.0 1173.2,1820.0 1188.1,1828.0 C1203.0,1836.0 1222.6,1842.8 1237.8,1847.8 C1253.0,1852.8 1272.5,1856.0 1279.5,1857.7" fill="none" stroke="#f04cb0" stroke-width="4.5" stroke-linejoin="round" stroke-linecap="round"/>
<path d="M807.5,1869.8 C809.1,1860.5 813.5,1834.3 817.0,1813.7 C820.5,1793.1 824.1,1768.7 828.2,1746.2 C832.3,1723.7 836.8,1699.3 841.7,1678.7 C846.6,1658.1 851.1,1642.4 857.5,1622.5 C863.9,1602.6 872.5,1578.2 880.0,1559.5 C887.5,1540.8 895.0,1523.5 902.5,1510.0 C910.0,1496.5 918.6,1486.2 925.0,1478.5 C931.4,1470.8 938.1,1466.3 940.7,1463.9 C942.6,1468.2 948.5,1477.3 952.0,1490.0 C955.5,1502.7 958.8,1523.3 962.0,1540.0 C965.2,1556.7 967.3,1574.0 971.0,1590.0 C974.7,1606.0 979.5,1622.0 984.0,1636.0 C988.5,1650.0 992.1,1661.2 998.0,1674.0 C1003.9,1686.8 1010.9,1698.7 1019.4,1712.8 C1027.9,1726.9 1037.5,1743.5 1049.1,1758.4 C1060.7,1773.3 1075.7,1790.5 1088.9,1802.1 C1102.2,1813.7 1112.1,1820.0 1128.6,1827.9 C1145.1,1835.9 1169.9,1844.2 1188.1,1849.8 C1206.3,1855.4 1222.6,1858.4 1237.8,1861.7 C1253.0,1865.0 1272.5,1868.3 1279.5,1869.6" fill="none" stroke="#e030f0" stroke-width="4.5" stroke-linejoin="round" stroke-linecap="round"/>
<path d="M1279.5,1841.8 C1281.3,1829.8 1286.7,1796.1 1290.5,1770.0 C1294.3,1743.9 1299.5,1705.0 1302.3,1685.0 C1305.0,1665.0 1302.3,1662.2 1307.0,1650.0 C1311.7,1637.8 1323.0,1622.3 1330.5,1611.5 C1338.0,1600.7 1348.4,1589.4 1352.0,1585.0 C1353.7,1588.2 1357.0,1601.2 1362.0,1604.4 C1367.0,1607.6 1371.8,1601.8 1382.2,1604.4 C1392.6,1607.0 1406.4,1613.0 1424.4,1620.0 C1442.4,1627.0 1474.4,1638.8 1490.0,1646.3 C1505.6,1653.8 1511.5,1658.9 1518.2,1665.0 C1524.9,1671.1 1525.3,1673.9 1530.0,1683.0 C1534.7,1692.1 1538.9,1707.4 1546.3,1719.4 C1553.7,1731.4 1565.0,1744.7 1574.4,1755.0 C1583.8,1765.3 1593.2,1774.1 1602.6,1781.3 C1612.0,1788.5 1621.3,1793.0 1630.7,1798.2 C1640.1,1803.4 1654.1,1809.9 1658.8,1812.2" fill="none" stroke="#18a4ea" stroke-width="5.0" stroke-linejoin="round" stroke-linecap="round"/>
<path d="M1279.5,1855.7 C1281.3,1842.4 1286.7,1805.0 1290.5,1776.0 C1294.3,1747.0 1299.5,1702.4 1302.3,1682.0 C1305.0,1661.6 1303.1,1659.3 1307.0,1653.8 C1310.9,1648.3 1320.3,1652.1 1325.8,1649.0 C1331.3,1645.9 1334.8,1648.3 1339.9,1635.0 C1345.0,1621.7 1353.6,1580.2 1356.3,1569.2 C1358.2,1576.2 1363.8,1598.0 1368.0,1611.5 C1372.2,1625.0 1373.5,1643.9 1381.3,1650.0 C1389.1,1656.1 1401.6,1646.5 1415.0,1648.1 C1428.4,1649.7 1451.0,1655.3 1461.9,1659.4 C1472.9,1663.5 1474.5,1665.6 1480.7,1672.5 C1487.0,1679.4 1493.2,1689.8 1499.4,1700.7 C1505.7,1711.7 1510.4,1725.7 1518.2,1738.2 C1526.0,1750.7 1536.9,1765.7 1546.3,1775.7 C1555.7,1785.7 1563.5,1791.3 1574.4,1798.2 C1585.3,1805.1 1597.8,1811.5 1611.9,1817.0 C1626.0,1822.5 1651.0,1828.7 1658.8,1831.0" fill="none" stroke="#3a3ae6" stroke-width="5.0" stroke-linejoin="round" stroke-linecap="round"/>
<path d="M1279.5,1857.7 C1281.3,1844.4 1286.7,1806.8 1290.5,1778.0 C1294.3,1749.2 1299.5,1705.2 1302.3,1685.0 C1305.0,1664.8 1303.1,1662.3 1307.0,1656.8 C1310.9,1651.3 1320.3,1655.3 1325.8,1652.0 C1331.3,1648.7 1334.8,1650.5 1339.9,1637.0 C1345.0,1623.5 1353.6,1582.2 1356.3,1571.2 C1358.2,1578.2 1363.8,1599.9 1368.0,1613.5 C1372.2,1627.1 1373.5,1646.7 1381.3,1653.0 C1389.1,1659.3 1401.6,1649.5 1415.0,1651.1 C1428.4,1652.7 1451.0,1658.3 1461.9,1662.4 C1472.9,1666.5 1474.5,1668.8 1480.7,1675.5 C1487.0,1682.2 1493.2,1691.9 1499.4,1702.7 C1505.7,1713.5 1510.4,1727.7 1518.2,1740.2 C1526.0,1752.7 1536.9,1767.7 1546.3,1777.7 C1555.7,1787.7 1563.5,1793.3 1574.4,1800.2 C1585.3,1807.1 1597.8,1813.5 1611.9,1819.0 C1626.0,1824.5 1651.0,1830.7 1658.8,1833.0" fill="none" stroke="#f01280" stroke-width="5.0" stroke-linejoin="round" stroke-linecap="round"/>
<path d="M1279.5,1869.6 C1281.3,1854.0 1286.7,1807.3 1290.5,1776.0 C1294.3,1744.7 1298.4,1711.4 1302.3,1682.0 C1306.2,1652.6 1309.3,1627.1 1314.0,1599.7 C1318.7,1572.3 1324.6,1543.9 1330.5,1517.5 C1336.4,1491.1 1346.2,1453.8 1349.3,1441.1 C1351.2,1449.9 1357.4,1474.2 1361.0,1494.0 C1364.6,1513.8 1367.2,1539.3 1371.0,1560.0 C1374.8,1580.7 1378.9,1599.2 1384.0,1618.0 C1389.1,1636.8 1396.3,1659.2 1401.5,1673.0 C1406.7,1686.8 1409.6,1689.8 1415.0,1700.7 C1420.4,1711.6 1426.0,1725.7 1433.8,1738.2 C1441.6,1750.7 1452.5,1764.8 1461.9,1775.7 C1471.3,1786.6 1479.1,1794.4 1490.0,1803.8 C1500.9,1813.2 1513.4,1823.9 1527.5,1832.0 C1541.6,1840.1 1558.8,1847.3 1574.4,1852.6 C1590.0,1857.9 1607.2,1860.7 1621.3,1863.8 C1635.4,1866.9 1652.5,1870.0 1658.8,1871.3" fill="none" stroke="#9412d4" stroke-width="5.0" stroke-linejoin="round" stroke-linecap="round"/>
<path d="M187,1360 V1927 M1749,1360 V1917 M184.5,1362.6 H1751.5 M184.5,1914.5 H1751.5" stroke="#000" stroke-width="5" fill="none"/>
<line x1="167" y1="1914.5" x2="187" y2="1914.5" stroke="#000" stroke-width="5"/>
<line x1="176" y1="1859.3" x2="187" y2="1859.3" stroke="#000" stroke-width="5"/>
<line x1="167" y1="1804.1" x2="187" y2="1804.1" stroke="#000" stroke-width="5"/>
<line x1="176" y1="1748.9" x2="187" y2="1748.9" stroke="#000" stroke-width="5"/>
<line x1="167" y1="1693.7" x2="187" y2="1693.7" stroke="#000" stroke-width="5"/>
<line x1="176" y1="1638.5" x2="187" y2="1638.5" stroke="#000" stroke-width="5"/>
<line x1="167" y1="1583.4" x2="187" y2="1583.4" stroke="#000" stroke-width="5"/>
<line x1="176" y1="1528.2" x2="187" y2="1528.2" stroke="#000" stroke-width="5"/>
<line x1="167" y1="1473.0" x2="187" y2="1473.0" stroke="#000" stroke-width="5"/>
<line x1="176" y1="1417.8" x2="187" y2="1417.8" stroke="#000" stroke-width="5"/>
<line x1="167" y1="1362.6" x2="187" y2="1362.6" stroke="#000" stroke-width="5"/>
<line x1="186.5" y1="1914" x2="186.5" y2="1927" stroke="#000" stroke-width="5"/>
<line x1="268.7" y1="1914" x2="268.7" y2="1935" stroke="#000" stroke-width="5"/>
<line x1="350.9" y1="1914" x2="350.9" y2="1927" stroke="#000" stroke-width="5"/>
<line x1="433.2" y1="1914" x2="433.2" y2="1935" stroke="#000" stroke-width="5"/>
<line x1="515.4" y1="1914" x2="515.4" y2="1927" stroke="#000" stroke-width="5"/>
<line x1="597.7" y1="1914" x2="597.7" y2="1935" stroke="#000" stroke-width="5"/>
<line x1="679.9" y1="1914" x2="679.9" y2="1927" stroke="#000" stroke-width="5"/>
<line x1="762.1" y1="1914" x2="762.1" y2="1935" stroke="#000" stroke-width="5"/>
<line x1="844.4" y1="1914" x2="844.4" y2="1927" stroke="#000" stroke-width="5"/>
<line x1="926.6" y1="1914" x2="926.6" y2="1935" stroke="#000" stroke-width="5"/>
<line x1="1008.8" y1="1914" x2="1008.8" y2="1927" stroke="#000" stroke-width="5"/>
<line x1="1091.1" y1="1914" x2="1091.1" y2="1935" stroke="#000" stroke-width="5"/>
<line x1="1173.3" y1="1914" x2="1173.3" y2="1927" stroke="#000" stroke-width="5"/>
<line x1="1255.6" y1="1914" x2="1255.6" y2="1935" stroke="#000" stroke-width="5"/>
<line x1="1337.8" y1="1914" x2="1337.8" y2="1927" stroke="#000" stroke-width="5"/>
<line x1="1420.0" y1="1914" x2="1420.0" y2="1935" stroke="#000" stroke-width="5"/>
<line x1="1502.3" y1="1914" x2="1502.3" y2="1927" stroke="#000" stroke-width="5"/>
<line x1="1584.5" y1="1914" x2="1584.5" y2="1935" stroke="#000" stroke-width="5"/>
<line x1="1666.8" y1="1914" x2="1666.8" y2="1927" stroke="#000" stroke-width="5"/>
<line x1="1749.0" y1="1914" x2="1749.0" y2="1935" stroke="#000" stroke-width="5"/>
<text x="153.5" y="1925.7" font-size="41" text-anchor="end">20</text>
<text x="153.5" y="1815.3" font-size="41" text-anchor="end">40</text>
<text x="153.5" y="1704.9" font-size="41" text-anchor="end">60</text>
<text x="153.5" y="1594.6" font-size="41" text-anchor="end">80</text>
<text x="153.5" y="1484.2" font-size="41" text-anchor="end">100</text>
<text x="153.5" y="1373.8" font-size="41" text-anchor="end">120</text>
<text x="268.7" y="1980.3" font-size="41" text-anchor="middle">0</text>
<text x="433.2" y="1980.3" font-size="41" text-anchor="middle">2000</text>
<text x="597.7" y="1980.3" font-size="41" text-anchor="middle">4000</text>
<text x="762.1" y="1980.3" font-size="41" text-anchor="middle">6000</text>
<text x="926.6" y="1980.3" font-size="41" text-anchor="middle">8000</text>
<text x="1090.4" y="1980.3" font-size="41" text-anchor="middle" letter-spacing="-1.35">10000</text>
<text x="1254.9" y="1980.3" font-size="41" text-anchor="middle" letter-spacing="-1.35">12000</text>
<text x="1419.3" y="1980.3" font-size="41" text-anchor="middle" letter-spacing="-1.35">14000</text>
<text x="1583.8" y="1980.3" font-size="41" text-anchor="middle" letter-spacing="-1.35">16000</text>
<text x="1748.3" y="1980.3" font-size="41" text-anchor="middle" letter-spacing="-1.35">18000</text>
<text x="968" y="2037.2" font-size="40" text-anchor="middle">Time(s)</text>
<text transform="translate(67,1637) rotate(-90)" font-size="39.5" text-anchor="middle">Temperature(℃)</text>
<g font-size="34.5" fill="#1a1a1a" stroke="#1a1a1a" stroke-width="1.1">
<text x="300.5" y="1416.2">5.6W ON</text>
<text x="604" y="1416.2">OFF</text>
<text x="817" y="1414">7W ON</text>
<text x="1071.5" y="1415">OFF</text>
<text x="1281" y="1416">10W</text>
<text x="1500" y="1416">OFF</text>
</g>
<text x="215.5" y="1473.4" font-size="33" fill="#ecb4f2">Al</text>
<text x="215.5" y="1515.0" font-size="33" fill="#94d6f4">PW</text>
<text x="215.5" y="1556.6" font-size="33" fill="#9a92e6">SH</text>
<text x="215.5" y="1598.5" font-size="33" fill="#f28ac8">SY</text>
<text x="756.0" y="1476.0" font-size="33" fill="#d8aaf2">Al</text>
<text x="756.0" y="1518.0" font-size="33" fill="#5cbaf0">PW</text>
<text x="756.0" y="1559.5" font-size="33" fill="#5866e2">SH</text>
<text x="756.0" y="1599.5" font-size="33" fill="#e85aa8">SY</text>
<text x="1228.0" y="1480.5" font-size="33" fill="#c4a8f4">Al</text>
<text x="1228.0" y="1519.5" font-size="33" fill="#1c9ae8">PW</text>
<text x="1228.0" y="1560.0" font-size="33" fill="#2a4ada">SH</text>
<text x="1228.0" y="1601.0" font-size="33" fill="#e02a7a">SY</text>
<line x1="188.27" y1="1557.3" x2="1741" y2="1557.3" stroke="#4a4a4a" stroke-width="5" stroke-dasharray="21 20.33"/>
<line x1="188.27" y1="1682" x2="1741" y2="1682" stroke="#1a1a1a" stroke-width="5" stroke-dasharray="21.5 19.83"/>
<text x="46" y="1395" font-size="64">f</text>
</svg></body></html>
